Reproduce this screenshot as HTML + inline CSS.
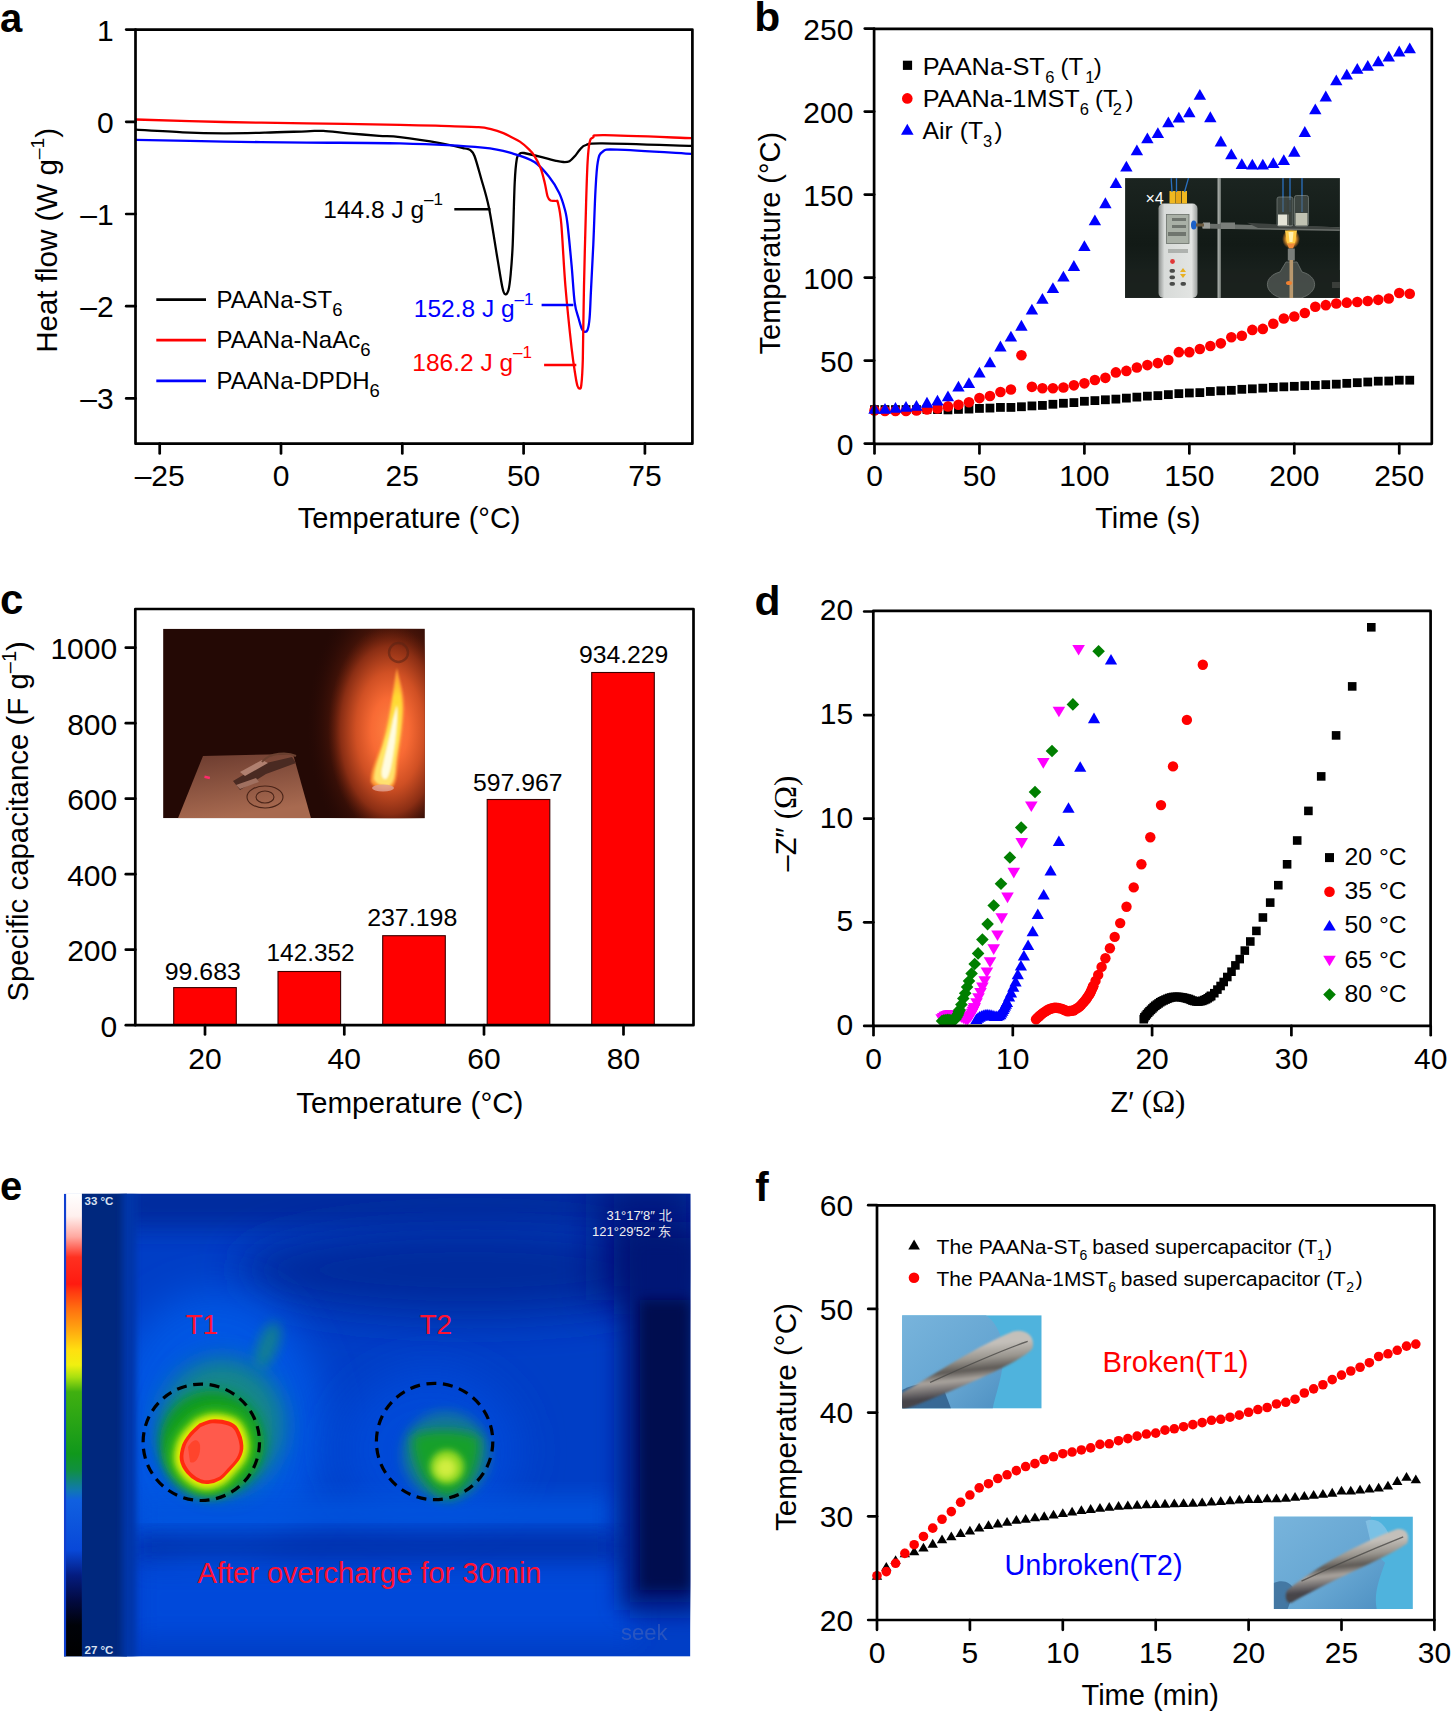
<!DOCTYPE html>
<html><head><meta charset="utf-8"><title>Figure</title>
<style>html,body{margin:0;padding:0;background:#fff;}svg{display:block;}text{font-family:"Liberation Sans",sans-serif;}</style>
</head><body>
<svg width="1451" height="1713" viewBox="0 0 1451 1713" font-family="Liberation Sans, sans-serif">
<rect width="1451" height="1713" fill="#fff"/>
<g id="pa">
<clipPath id="ca"><rect x="135.5" y="29.6" width="556.9" height="414.1"/></clipPath>
<g clip-path="url(#ca)" fill="none" stroke-width="2.3" stroke-linejoin="round">
<path d="M135.60,129.60 C143.45,130.05 167.97,131.68 182.70,132.30 C197.43,132.92 210.22,133.23 224.00,133.30 C237.78,133.37 251.62,133.03 265.40,132.70 C279.18,132.37 297.05,131.60 306.70,131.30 C316.35,131.00 316.40,130.57 323.30,130.90 C330.20,131.23 338.80,132.48 348.10,133.30 C357.40,134.12 370.45,135.15 379.10,135.80 C387.75,136.45 389.63,135.93 400.00,137.20 C410.37,138.47 430.47,141.52 441.30,143.40 C452.13,145.28 460.17,147.37 465.00,148.50 C469.83,149.63 468.72,148.95 470.30,150.20 C471.88,151.45 472.72,151.37 474.50,156.00 C476.28,160.63 478.60,169.42 481.00,178.00 C483.40,186.58 486.20,194.32 488.90,207.50 C491.60,220.68 494.93,243.68 497.20,257.10 C499.47,270.52 501.13,281.80 502.50,288.00 C503.87,294.20 504.40,293.97 505.40,294.30 C506.40,294.63 507.63,293.22 508.50,290.00 C509.37,286.78 509.90,282.55 510.60,275.00 C511.30,267.45 512.02,260.08 512.70,244.70 C513.38,229.32 514.02,196.98 514.70,182.70 C515.38,168.42 516.00,163.75 516.80,159.00 C517.60,154.25 518.30,155.20 519.50,154.20 C520.70,153.20 519.80,152.38 524.00,153.00 C528.20,153.62 539.37,156.60 544.70,157.90 C550.03,159.20 552.90,160.12 556.00,160.80 C559.10,161.48 561.05,161.93 563.30,162.00 C565.55,162.07 567.55,162.20 569.50,161.20 C571.45,160.20 573.27,157.93 575.00,156.00 C576.73,154.07 578.07,151.43 579.90,149.60 C581.73,147.77 582.22,146.03 586.00,145.00 C589.78,143.97 585.02,143.25 602.60,143.40 C620.18,143.55 676.68,145.48 691.50,145.90" stroke="#000"/>
<path d="M135.60,139.80 C150.33,140.10 195.48,141.13 224.00,141.60 C252.52,142.07 277.37,142.30 306.70,142.60 C336.03,142.90 370.67,142.57 400.00,143.40 C429.33,144.23 463.75,145.87 482.70,147.60 C501.65,149.33 505.08,151.40 513.70,153.80 C522.32,156.20 528.53,158.22 534.40,162.00 C540.27,165.78 544.77,171.33 548.90,176.50 C553.03,181.67 556.52,187.42 559.20,193.00 C561.88,198.58 563.62,204.83 565.00,210.00 C566.38,215.17 566.40,214.77 567.50,224.00 C568.60,233.23 570.40,252.30 571.60,265.40 C572.80,278.50 573.55,293.83 574.70,302.60 C575.85,311.37 577.37,313.77 578.50,318.00 C579.63,322.23 580.58,325.73 581.50,328.00 C582.42,330.27 583.00,331.27 584.00,331.60 C585.00,331.93 586.57,332.27 587.50,330.00 C588.43,327.73 589.02,324.67 589.60,318.00 C590.18,311.33 590.38,302.22 591.00,290.00 C591.62,277.78 592.55,261.37 593.30,244.70 C594.05,228.03 594.75,203.78 595.50,190.00 C596.25,176.22 596.62,168.38 597.80,162.00 C598.98,155.62 599.38,153.77 602.60,151.70 C605.82,149.63 602.28,149.25 617.10,149.60 C631.92,149.95 679.10,153.10 691.50,153.80" stroke="#0000ff"/>
<path d="M135.60,119.50 C150.33,119.92 195.48,121.35 224.00,122.00 C252.52,122.65 277.37,122.93 306.70,123.40 C336.03,123.87 377.57,124.40 400.00,124.80 C422.43,125.20 428.20,125.42 441.30,125.80 C454.40,126.18 470.32,126.53 478.60,127.10 C486.88,127.67 486.87,128.20 491.00,129.20 C495.13,130.20 499.97,131.77 503.40,133.10 C506.83,134.43 508.85,135.78 511.60,137.20 C514.35,138.62 517.13,139.70 519.90,141.60 C522.67,143.50 525.78,146.23 528.20,148.60 C530.62,150.97 532.33,152.53 534.40,155.80 C536.47,159.07 538.88,163.72 540.60,168.20 C542.32,172.68 543.53,177.98 544.70,182.70 C545.87,187.42 546.63,193.52 547.60,196.50 C548.57,199.48 549.10,199.85 550.50,200.60 C551.90,201.35 554.75,200.60 556.00,201.00 C557.25,201.40 557.12,199.17 558.00,203.00 C558.88,206.83 560.07,210.17 561.30,224.00 C562.53,237.83 563.68,265.32 565.40,286.00 C567.12,306.68 569.92,333.10 571.60,348.10 C573.28,363.10 574.52,369.68 575.50,376.00 C576.48,382.32 576.83,383.92 577.50,386.00 C578.17,388.08 578.87,388.67 579.50,388.50 C580.13,388.33 580.75,389.75 581.30,385.00 C581.85,380.25 582.35,376.50 582.80,360.00 C583.25,343.50 583.45,312.10 584.00,286.00 C584.55,259.90 585.50,224.07 586.10,203.40 C586.70,182.73 587.03,172.07 587.60,162.00 C588.17,151.93 588.60,147.08 589.50,143.00 C590.40,138.92 590.47,138.82 593.00,137.50 C595.53,136.18 588.28,134.98 604.70,135.10 C621.12,135.22 677.03,137.68 691.50,138.20" stroke="#ff0000"/>
</g>
<rect x="135.50" y="29.60" width="556.90" height="414.10" fill="none" stroke="#000" stroke-width="2.7" stroke-linejoin="round"/>
<line x1="126.20" y1="29.60" x2="135.50" y2="29.60" stroke="#000" stroke-width="2.7" stroke-linecap="round"/>
<text x="113.6" y="40.6" font-size="30" text-anchor="end">1</text>
<line x1="126.20" y1="121.80" x2="135.50" y2="121.80" stroke="#000" stroke-width="2.7" stroke-linecap="round"/>
<text x="113.6" y="132.8" font-size="30" text-anchor="end">0</text>
<line x1="126.20" y1="214.00" x2="135.50" y2="214.00" stroke="#000" stroke-width="2.7" stroke-linecap="round"/>
<text x="113.6" y="225.0" font-size="30" text-anchor="end">–1</text>
<line x1="126.20" y1="306.20" x2="135.50" y2="306.20" stroke="#000" stroke-width="2.7" stroke-linecap="round"/>
<text x="113.6" y="317.2" font-size="30" text-anchor="end">–2</text>
<line x1="126.20" y1="398.40" x2="135.50" y2="398.40" stroke="#000" stroke-width="2.7" stroke-linecap="round"/>
<text x="113.6" y="409.4" font-size="30" text-anchor="end">–3</text>
<line x1="159.70" y1="443.70" x2="159.70" y2="453.50" stroke="#000" stroke-width="2.7" stroke-linecap="round"/>
<text x="159.7" y="485.6" font-size="30" text-anchor="middle">–25</text>
<line x1="281.00" y1="443.70" x2="281.00" y2="453.50" stroke="#000" stroke-width="2.7" stroke-linecap="round"/>
<text x="281.0" y="485.6" font-size="30" text-anchor="middle">0</text>
<line x1="402.30" y1="443.70" x2="402.30" y2="453.50" stroke="#000" stroke-width="2.7" stroke-linecap="round"/>
<text x="402.3" y="485.6" font-size="30" text-anchor="middle">25</text>
<line x1="523.60" y1="443.70" x2="523.60" y2="453.50" stroke="#000" stroke-width="2.7" stroke-linecap="round"/>
<text x="523.6" y="485.6" font-size="30" text-anchor="middle">50</text>
<line x1="644.90" y1="443.70" x2="644.90" y2="453.50" stroke="#000" stroke-width="2.7" stroke-linecap="round"/>
<text x="644.9" y="485.6" font-size="30" text-anchor="middle">75</text>
<text x="297.8" y="528.2" font-size="29">Temperature (°C)</text>
<g transform="translate(56.9,352.8) rotate(-90)">
<text x="0" y="0" font-size="29" textLength="225" lengthAdjust="spacingAndGlyphs">Heat flow (W g<tspan font-size="19" dy="-12.6">–1</tspan><tspan dy="12.6">)</tspan></text>
</g>
<line x1="156.30" y1="299.60" x2="206.00" y2="299.60" stroke="#000" stroke-width="2.7" stroke-linecap="butt"/>
<line x1="156.30" y1="340.20" x2="206.00" y2="340.20" stroke="#ff0000" stroke-width="2.7" stroke-linecap="butt"/>
<line x1="156.30" y1="380.80" x2="206.00" y2="380.80" stroke="#0000ff" stroke-width="2.7" stroke-linecap="butt"/>
<text x="216.6" y="307.6" font-size="24">PAANa-ST<tspan font-size="18.5" dy="8.2">6</tspan></text>
<text x="216.6" y="348.0" font-size="24">PAANa-NaAc<tspan font-size="18.5" dy="8.2">6</tspan></text>
<text x="216.6" y="389.0" font-size="24">PAANa-DPDH<tspan font-size="18.5" dy="8.2">6</tspan></text>
<text x="323.3" y="217.6" font-size="24.5">144.8 J g<tspan font-size="17" dy="-12.5">–1</tspan></text>
<line x1="454.30" y1="209.30" x2="490.40" y2="209.30" stroke="#000" stroke-width="2.5" stroke-linecap="butt"/>
<text x="413.8" y="317.4" font-size="24.5" fill="#0000ff">152.8 J g<tspan font-size="17" dy="-12.5">–1</tspan></text>
<line x1="541.60" y1="305.00" x2="573.40" y2="305.00" stroke="#0000ff" stroke-width="2.5" stroke-linecap="butt"/>
<text x="412.3" y="370.7" font-size="24.5" fill="#ff0000">186.2 J g<tspan font-size="17" dy="-12.5">–1</tspan></text>
<line x1="544.10" y1="364.90" x2="576.30" y2="364.90" stroke="#ff0000" stroke-width="2.5" stroke-linecap="butt"/>
<text x="0.0" y="32.0" font-size="40" font-weight="bold">a</text>
</g>
<g id="pb">
<defs><clipPath id="cb"><rect x="1125.1" y="178.1" width="214.8" height="119.8"/></clipPath><linearGradient id="bgb" x1="0" y1="0" x2="0" y2="1"><stop offset="0" stop-color="#1b2420"/><stop offset="0.55" stop-color="#121a16"/><stop offset="1" stop-color="#1e2623"/></linearGradient><radialGradient id="flb" cx="0.5" cy="0.5" r="0.5"><stop offset="0" stop-color="#fff2c0"/><stop offset="0.5" stop-color="#ffb030"/><stop offset="1" stop-color="#ff8a20" stop-opacity="0"/></radialGradient><linearGradient id="devb" x1="0" y1="0" x2="1" y2="0"><stop offset="0" stop-color="#8a8e8c"/><stop offset="0.15" stop-color="#d8dbd9"/><stop offset="0.85" stop-color="#e2e4e2"/><stop offset="1" stop-color="#9a9e9c"/></linearGradient></defs>
<g clip-path="url(#cb)">
<rect x="1125.1" y="178.1" width="214.8" height="119.8" fill="url(#bgb)"/>
<rect x="1125.1" y="270" width="214.8" height="28" fill="#1a201d" opacity="0.8"/>
<rect x="1217.3" y="178.1" width="3.6" height="119.8" fill="#7e8480"/>
<rect x="1218.2" y="178.1" width="1.2" height="119.8" fill="#a8ada9"/>
<polygon points="1202,223.5 1339.9,227.2 1339.9,231 1202,228.5" fill="#6a6f6b"/>
<polygon points="1247,222.8 1339.9,227.4 1339.9,229.5 1258,228" fill="#3e4340" />
<rect x="1203" y="222.5" width="7" height="6" fill="#9a9e9a"/>
<rect x="1221" y="222.5" width="14" height="6.5" fill="#7a7e7a"/>
<rect x="1158.5" y="203.5" width="39" height="94.4" rx="5" fill="url(#devb)"/>
<rect x="1166.5" y="214.5" width="22.5" height="29" fill="#a9b0a6" stroke="#6a706a" stroke-width="0.8"/>
<rect x="1172" y="218" width="14" height="3" fill="#4a4e4a" opacity="0.6"/>
<rect x="1172" y="225" width="14" height="3" fill="#4a4e4a" opacity="0.6"/>
<rect x="1168" y="232" width="18" height="4" fill="#4a4e4a" opacity="0.6"/>
<rect x="1168" y="249" width="20" height="4" fill="#9a9e9a" opacity="0.7"/>
<circle cx="1172.5" cy="261.5" r="2.4" fill="#e03838"/>
<rect x="1169.5" y="269" width="5.5" height="3.8" rx="1.8" fill="#4a4c4a"/>
<rect x="1169.5" y="275.5" width="5.5" height="3.8" rx="1.8" fill="#4a4c4a"/>
<rect x="1169.5" y="282" width="5.5" height="3.8" rx="1.8" fill="#4a4c4a"/>
<polygon points="1183,268 1186,272 1180,272" fill="#e8b020"/>
<polygon points="1183,278 1186,274 1180,274" fill="#e8b020"/>
<rect x="1180.5" y="282" width="5.5" height="3.8" rx="1.8" fill="#4a4c4a"/>
<ellipse cx="1193.8" cy="225" rx="2.8" ry="4.6" fill="#1a60c8"/>
<rect x="1196" y="223.5" width="8" height="3" fill="#6a5a40"/>
<rect x="1169.5" y="191" width="6" height="12.5" fill="#f0b820"/>
<rect x="1175.8" y="191" width="5.5" height="12.5" fill="#e8a818"/>
<rect x="1182" y="191" width="5" height="12.5" fill="#f0b820"/>
<path d="M1172,192 L1171.2,178.1" stroke="#2a70c0" stroke-width="1.3" fill="none"/>
<path d="M1176.5,192 L1176.5,178.1" stroke="#2a70c0" stroke-width="1.3" fill="none"/>
<path d="M1184.5,192 L1188.5,178.1" stroke="#2a70c0" stroke-width="1.3" fill="none"/>
<path d="M1283,178.1 L1283,212" stroke="#2a70c0" stroke-width="1.3" fill="none"/>
<path d="M1290,178.1 L1290,212" stroke="#2a70c0" stroke-width="1.3" fill="none"/>
<path d="M1302,178.1 L1302,212" stroke="#2a70c0" stroke-width="1.3" fill="none"/>
<rect x="1277" y="197" width="16" height="29" rx="2" fill="#5a625e" opacity="0.55" stroke="#b8c0bc" stroke-width="0.8"/>
<rect x="1294.5" y="195.5" width="14" height="30.5" rx="2" fill="#5a625e" opacity="0.55" stroke="#b8c0bc" stroke-width="0.8"/>
<rect x="1278" y="214.5" width="11" height="11" fill="#e4e4d8"/>
<rect x="1295.5" y="213" width="12" height="12.5" fill="#c0c2b2"/>
<rect x="1287" y="200" width="4" height="25" fill="#3a403c" opacity="0.7"/>
<ellipse cx="1291" cy="239" rx="9" ry="10" fill="url(#flb)"/>
<polygon points="1285,230.5 1297,230.5 1294.8,243.5 1287.2,243.5" fill="#ffcc48"/>
<polygon points="1288.5,232 1293.5,232 1292.5,242 1289.5,242" fill="#fff0b0"/>
<polygon points="1287,243.5 1295,243.5 1293,248.5 1289,248.5" fill="#f08a38"/>
<rect x="1287.8" y="248.5" width="7" height="12" fill="#7a7e7a"/>
<path d="M1281,298 C1262,292 1264,276 1280,272 L1286,262 L1297,262 L1302,272 C1318,276 1320,292 1301,298 Z" fill="#7a807c" opacity="0.45" stroke="#c8cecb" stroke-width="0.9"/>
<rect x="1289.5" y="260" width="3.6" height="38" fill="#b8986e"/>
<ellipse cx="1289" cy="283" rx="3" ry="2" fill="#f08030"/>
<rect x="1332" y="282" width="8" height="6" fill="#3a3e3a"/>
</g>
<text x="1145.5" y="203.5" font-size="16" fill="#fff">×4</text>
<rect x="870.10" y="405.17" width="8.80" height="8.80" fill="#000"/>
<rect x="880.60" y="405.17" width="8.80" height="8.80" fill="#000"/>
<rect x="891.09" y="405.17" width="8.80" height="8.80" fill="#000"/>
<rect x="901.59" y="405.17" width="8.80" height="8.80" fill="#000"/>
<rect x="912.08" y="405.17" width="8.80" height="8.80" fill="#000"/>
<rect x="922.58" y="405.17" width="8.80" height="8.80" fill="#000"/>
<rect x="933.07" y="405.17" width="8.80" height="8.80" fill="#000"/>
<rect x="943.57" y="405.50" width="8.80" height="8.80" fill="#000"/>
<rect x="954.06" y="405.00" width="8.80" height="8.80" fill="#000"/>
<rect x="964.56" y="404.67" width="8.80" height="8.80" fill="#000"/>
<rect x="975.05" y="404.01" width="8.80" height="8.80" fill="#000"/>
<rect x="985.55" y="403.68" width="8.80" height="8.80" fill="#000"/>
<rect x="996.04" y="403.01" width="8.80" height="8.80" fill="#000"/>
<rect x="1006.53" y="403.01" width="8.80" height="8.80" fill="#000"/>
<rect x="1017.03" y="402.35" width="8.80" height="8.80" fill="#000"/>
<rect x="1027.52" y="401.52" width="8.80" height="8.80" fill="#000"/>
<rect x="1038.02" y="401.02" width="8.80" height="8.80" fill="#000"/>
<rect x="1048.51" y="399.86" width="8.80" height="8.80" fill="#000"/>
<rect x="1059.01" y="398.86" width="8.80" height="8.80" fill="#000"/>
<rect x="1069.50" y="398.20" width="8.80" height="8.80" fill="#000"/>
<rect x="1080.00" y="396.87" width="8.80" height="8.80" fill="#000"/>
<rect x="1090.49" y="396.21" width="8.80" height="8.80" fill="#000"/>
<rect x="1100.99" y="395.38" width="8.80" height="8.80" fill="#000"/>
<rect x="1111.48" y="394.71" width="8.80" height="8.80" fill="#000"/>
<rect x="1121.98" y="393.72" width="8.80" height="8.80" fill="#000"/>
<rect x="1132.47" y="392.72" width="8.80" height="8.80" fill="#000"/>
<rect x="1142.97" y="391.72" width="8.80" height="8.80" fill="#000"/>
<rect x="1153.46" y="391.23" width="8.80" height="8.80" fill="#000"/>
<rect x="1163.96" y="390.23" width="8.80" height="8.80" fill="#000"/>
<rect x="1174.45" y="389.23" width="8.80" height="8.80" fill="#000"/>
<rect x="1184.95" y="388.57" width="8.80" height="8.80" fill="#000"/>
<rect x="1195.44" y="388.24" width="8.80" height="8.80" fill="#000"/>
<rect x="1205.94" y="387.08" width="8.80" height="8.80" fill="#000"/>
<rect x="1216.43" y="386.41" width="8.80" height="8.80" fill="#000"/>
<rect x="1226.93" y="385.91" width="8.80" height="8.80" fill="#000"/>
<rect x="1237.42" y="384.92" width="8.80" height="8.80" fill="#000"/>
<rect x="1247.92" y="384.42" width="8.80" height="8.80" fill="#000"/>
<rect x="1258.41" y="383.76" width="8.80" height="8.80" fill="#000"/>
<rect x="1268.91" y="382.93" width="8.80" height="8.80" fill="#000"/>
<rect x="1279.40" y="382.43" width="8.80" height="8.80" fill="#000"/>
<rect x="1289.90" y="381.93" width="8.80" height="8.80" fill="#000"/>
<rect x="1300.39" y="381.27" width="8.80" height="8.80" fill="#000"/>
<rect x="1310.89" y="380.93" width="8.80" height="8.80" fill="#000"/>
<rect x="1321.38" y="380.27" width="8.80" height="8.80" fill="#000"/>
<rect x="1331.88" y="379.77" width="8.80" height="8.80" fill="#000"/>
<rect x="1342.38" y="378.94" width="8.80" height="8.80" fill="#000"/>
<rect x="1352.87" y="378.28" width="8.80" height="8.80" fill="#000"/>
<rect x="1363.37" y="377.61" width="8.80" height="8.80" fill="#000"/>
<rect x="1373.86" y="376.78" width="8.80" height="8.80" fill="#000"/>
<rect x="1384.36" y="376.62" width="8.80" height="8.80" fill="#000"/>
<rect x="1394.85" y="375.79" width="8.80" height="8.80" fill="#000"/>
<rect x="1405.34" y="375.79" width="8.80" height="8.80" fill="#000"/>
<circle cx="874.50" cy="410.40" r="5.30" fill="#ff0000"/>
<circle cx="885.00" cy="410.90" r="5.30" fill="#ff0000"/>
<circle cx="895.49" cy="410.90" r="5.30" fill="#ff0000"/>
<circle cx="905.99" cy="410.90" r="5.30" fill="#ff0000"/>
<circle cx="916.48" cy="410.57" r="5.30" fill="#ff0000"/>
<circle cx="926.98" cy="409.40" r="5.30" fill="#ff0000"/>
<circle cx="937.47" cy="408.41" r="5.30" fill="#ff0000"/>
<circle cx="947.97" cy="406.42" r="5.30" fill="#ff0000"/>
<circle cx="958.46" cy="404.76" r="5.30" fill="#ff0000"/>
<circle cx="968.96" cy="402.27" r="5.30" fill="#ff0000"/>
<circle cx="979.45" cy="398.12" r="5.30" fill="#ff0000"/>
<circle cx="989.95" cy="395.96" r="5.30" fill="#ff0000"/>
<circle cx="1000.44" cy="391.97" r="5.30" fill="#ff0000"/>
<circle cx="1010.93" cy="389.48" r="5.30" fill="#ff0000"/>
<circle cx="1021.43" cy="355.29" r="5.30" fill="#ff0000"/>
<circle cx="1031.92" cy="386.83" r="5.30" fill="#ff0000"/>
<circle cx="1042.42" cy="388.32" r="5.30" fill="#ff0000"/>
<circle cx="1052.91" cy="388.32" r="5.30" fill="#ff0000"/>
<circle cx="1063.41" cy="387.49" r="5.30" fill="#ff0000"/>
<circle cx="1073.90" cy="385.33" r="5.30" fill="#ff0000"/>
<circle cx="1084.40" cy="383.34" r="5.30" fill="#ff0000"/>
<circle cx="1094.89" cy="380.02" r="5.30" fill="#ff0000"/>
<circle cx="1105.39" cy="377.86" r="5.30" fill="#ff0000"/>
<circle cx="1115.88" cy="372.39" r="5.30" fill="#ff0000"/>
<circle cx="1126.38" cy="370.89" r="5.30" fill="#ff0000"/>
<circle cx="1136.88" cy="367.57" r="5.30" fill="#ff0000"/>
<circle cx="1147.37" cy="365.08" r="5.30" fill="#ff0000"/>
<circle cx="1157.87" cy="363.09" r="5.30" fill="#ff0000"/>
<circle cx="1168.36" cy="359.94" r="5.30" fill="#ff0000"/>
<circle cx="1178.86" cy="352.13" r="5.30" fill="#ff0000"/>
<circle cx="1189.35" cy="352.13" r="5.30" fill="#ff0000"/>
<circle cx="1199.85" cy="348.98" r="5.30" fill="#ff0000"/>
<circle cx="1210.34" cy="345.99" r="5.30" fill="#ff0000"/>
<circle cx="1220.84" cy="343.34" r="5.30" fill="#ff0000"/>
<circle cx="1231.33" cy="337.19" r="5.30" fill="#ff0000"/>
<circle cx="1241.83" cy="335.70" r="5.30" fill="#ff0000"/>
<circle cx="1252.32" cy="329.89" r="5.30" fill="#ff0000"/>
<circle cx="1262.82" cy="328.89" r="5.30" fill="#ff0000"/>
<circle cx="1273.31" cy="323.75" r="5.30" fill="#ff0000"/>
<circle cx="1283.81" cy="318.44" r="5.30" fill="#ff0000"/>
<circle cx="1294.30" cy="316.44" r="5.30" fill="#ff0000"/>
<circle cx="1304.80" cy="312.96" r="5.30" fill="#ff0000"/>
<circle cx="1315.29" cy="306.82" r="5.30" fill="#ff0000"/>
<circle cx="1325.79" cy="305.16" r="5.30" fill="#ff0000"/>
<circle cx="1336.28" cy="303.50" r="5.30" fill="#ff0000"/>
<circle cx="1346.78" cy="302.67" r="5.30" fill="#ff0000"/>
<circle cx="1357.27" cy="302.00" r="5.30" fill="#ff0000"/>
<circle cx="1367.77" cy="301.01" r="5.30" fill="#ff0000"/>
<circle cx="1378.26" cy="299.84" r="5.30" fill="#ff0000"/>
<circle cx="1388.76" cy="298.52" r="5.30" fill="#ff0000"/>
<circle cx="1399.25" cy="293.04" r="5.30" fill="#ff0000"/>
<circle cx="1409.74" cy="293.70" r="5.30" fill="#ff0000"/>
<polygon points="874.50,403.01 880.70,413.81 868.30,413.81" fill="#0000ff"/>
<polygon points="885.00,403.01 891.20,413.81 878.79,413.81" fill="#0000ff"/>
<polygon points="895.49,402.01 901.69,412.81 889.29,412.81" fill="#0000ff"/>
<polygon points="905.99,401.02 912.19,411.82 899.78,411.82" fill="#0000ff"/>
<polygon points="916.48,400.02 922.68,410.82 910.28,410.82" fill="#0000ff"/>
<polygon points="926.98,396.87 933.18,407.67 920.77,407.67" fill="#0000ff"/>
<polygon points="937.47,394.71 943.67,405.51 931.27,405.51" fill="#0000ff"/>
<polygon points="947.97,390.56 954.17,401.36 941.76,401.36" fill="#0000ff"/>
<polygon points="958.46,380.76 964.66,391.56 952.26,391.56" fill="#0000ff"/>
<polygon points="968.96,377.28 975.16,388.08 962.75,388.08" fill="#0000ff"/>
<polygon points="979.45,366.82 985.65,377.62 973.25,377.62" fill="#0000ff"/>
<polygon points="989.95,356.53 996.15,367.33 983.75,367.33" fill="#0000ff"/>
<polygon points="1000.44,340.59 1006.64,351.39 994.24,351.39" fill="#0000ff"/>
<polygon points="1010.93,330.63 1017.13,341.43 1004.73,341.43" fill="#0000ff"/>
<polygon points="1021.43,319.84 1027.63,330.64 1015.23,330.64" fill="#0000ff"/>
<polygon points="1031.92,303.74 1038.12,314.54 1025.72,314.54" fill="#0000ff"/>
<polygon points="1042.42,292.95 1048.62,303.75 1036.22,303.75" fill="#0000ff"/>
<polygon points="1052.91,282.16 1059.12,292.96 1046.71,292.96" fill="#0000ff"/>
<polygon points="1063.41,270.71 1069.61,281.51 1057.21,281.51" fill="#0000ff"/>
<polygon points="1073.90,260.08 1080.11,270.88 1067.70,270.88" fill="#0000ff"/>
<polygon points="1084.40,240.16 1090.60,250.96 1078.20,250.96" fill="#0000ff"/>
<polygon points="1094.89,214.43 1101.10,225.23 1088.69,225.23" fill="#0000ff"/>
<polygon points="1105.39,197.33 1111.59,208.13 1099.19,208.13" fill="#0000ff"/>
<polygon points="1115.88,177.25 1122.09,188.05 1109.68,188.05" fill="#0000ff"/>
<polygon points="1126.38,160.65 1132.58,171.45 1120.18,171.45" fill="#0000ff"/>
<polygon points="1136.88,144.55 1143.08,155.35 1130.67,155.35" fill="#0000ff"/>
<polygon points="1147.37,132.43 1153.57,143.23 1141.17,143.23" fill="#0000ff"/>
<polygon points="1157.87,127.28 1164.07,138.08 1151.66,138.08" fill="#0000ff"/>
<polygon points="1168.36,116.49 1174.56,127.29 1162.16,127.29" fill="#0000ff"/>
<polygon points="1178.86,111.68 1185.06,122.48 1172.65,122.48" fill="#0000ff"/>
<polygon points="1189.35,106.53 1195.55,117.33 1183.15,117.33" fill="#0000ff"/>
<polygon points="1199.85,88.94 1206.05,99.74 1193.64,99.74" fill="#0000ff"/>
<polygon points="1210.34,111.35 1216.54,122.15 1204.14,122.15" fill="#0000ff"/>
<polygon points="1220.84,135.58 1227.04,146.38 1214.63,146.38" fill="#0000ff"/>
<polygon points="1231.33,148.53 1237.53,159.33 1225.13,159.33" fill="#0000ff"/>
<polygon points="1241.83,158.16 1248.03,168.96 1235.62,168.96" fill="#0000ff"/>
<polygon points="1252.32,158.82 1258.52,169.62 1246.12,169.62" fill="#0000ff"/>
<polygon points="1262.82,158.82 1269.02,169.62 1256.62,169.62" fill="#0000ff"/>
<polygon points="1273.31,157.16 1279.51,167.96 1267.11,167.96" fill="#0000ff"/>
<polygon points="1283.81,154.17 1290.01,164.97 1277.61,164.97" fill="#0000ff"/>
<polygon points="1294.30,145.87 1300.50,156.67 1288.10,156.67" fill="#0000ff"/>
<polygon points="1304.80,126.12 1311.00,136.92 1298.60,136.92" fill="#0000ff"/>
<polygon points="1315.29,103.54 1321.49,114.34 1309.09,114.34" fill="#0000ff"/>
<polygon points="1325.79,90.60 1331.99,101.40 1319.59,101.40" fill="#0000ff"/>
<polygon points="1336.28,74.49 1342.48,85.29 1330.08,85.29" fill="#0000ff"/>
<polygon points="1346.78,68.68 1352.98,79.48 1340.58,79.48" fill="#0000ff"/>
<polygon points="1357.27,63.04 1363.47,73.84 1351.07,73.84" fill="#0000ff"/>
<polygon points="1367.77,60.05 1373.97,70.85 1361.57,70.85" fill="#0000ff"/>
<polygon points="1378.26,55.57 1384.46,66.37 1372.06,66.37" fill="#0000ff"/>
<polygon points="1388.76,50.76 1394.96,61.56 1382.56,61.56" fill="#0000ff"/>
<polygon points="1399.25,45.61 1405.45,56.41 1393.05,56.41" fill="#0000ff"/>
<polygon points="1409.74,42.46 1415.94,53.26 1403.54,53.26" fill="#0000ff"/>
<rect x="874.10" y="28.80" width="557.70" height="415.00" fill="none" stroke="#000" stroke-width="2.7" stroke-linejoin="round"/>
<line x1="864.80" y1="443.60" x2="874.10" y2="443.60" stroke="#000" stroke-width="2.7" stroke-linecap="round"/>
<text x="853.4" y="454.6" font-size="30" text-anchor="end">0</text>
<line x1="864.80" y1="360.60" x2="874.10" y2="360.60" stroke="#000" stroke-width="2.7" stroke-linecap="round"/>
<text x="853.4" y="371.6" font-size="30" text-anchor="end">50</text>
<line x1="864.80" y1="277.60" x2="874.10" y2="277.60" stroke="#000" stroke-width="2.7" stroke-linecap="round"/>
<text x="853.4" y="288.6" font-size="30" text-anchor="end">100</text>
<line x1="864.80" y1="194.60" x2="874.10" y2="194.60" stroke="#000" stroke-width="2.7" stroke-linecap="round"/>
<text x="853.4" y="205.6" font-size="30" text-anchor="end">150</text>
<line x1="864.80" y1="111.60" x2="874.10" y2="111.60" stroke="#000" stroke-width="2.7" stroke-linecap="round"/>
<text x="853.4" y="122.6" font-size="30" text-anchor="end">200</text>
<line x1="864.80" y1="28.60" x2="874.10" y2="28.60" stroke="#000" stroke-width="2.7" stroke-linecap="round"/>
<text x="853.4" y="39.6" font-size="30" text-anchor="end">250</text>
<line x1="874.50" y1="443.80" x2="874.50" y2="453.50" stroke="#000" stroke-width="2.7" stroke-linecap="round"/>
<text x="874.5" y="485.6" font-size="30" text-anchor="middle">0</text>
<line x1="979.45" y1="443.80" x2="979.45" y2="453.50" stroke="#000" stroke-width="2.7" stroke-linecap="round"/>
<text x="979.5" y="485.6" font-size="30" text-anchor="middle">50</text>
<line x1="1084.40" y1="443.80" x2="1084.40" y2="453.50" stroke="#000" stroke-width="2.7" stroke-linecap="round"/>
<text x="1084.4" y="485.6" font-size="30" text-anchor="middle">100</text>
<line x1="1189.35" y1="443.80" x2="1189.35" y2="453.50" stroke="#000" stroke-width="2.7" stroke-linecap="round"/>
<text x="1189.3" y="485.6" font-size="30" text-anchor="middle">150</text>
<line x1="1294.30" y1="443.80" x2="1294.30" y2="453.50" stroke="#000" stroke-width="2.7" stroke-linecap="round"/>
<text x="1294.3" y="485.6" font-size="30" text-anchor="middle">200</text>
<line x1="1399.25" y1="443.80" x2="1399.25" y2="453.50" stroke="#000" stroke-width="2.7" stroke-linecap="round"/>
<text x="1399.2" y="485.6" font-size="30" text-anchor="middle">250</text>
<text x="1095.2" y="527.5" font-size="29">Time (s)</text>
<g transform="translate(780.0,354.5) rotate(-90)">
<text x="0" y="0" font-size="29">Temperature (°C)</text>
</g>
<rect x="902.90" y="60.70" width="9.20" height="9.20" fill="#000"/>
<circle cx="907.30" cy="98.40" r="5.30" fill="#ff0000"/>
<polygon points="907.30,123.80 913.60,134.80 901.00,134.80" fill="#0000ff"/>
<text x="922.8" y="75.0" font-size="24" textLength="122" lengthAdjust="spacingAndGlyphs">PAANa-ST</text>
<text x="1045.2" y="82.7" font-size="16.5">6</text>
<text x="1060.5" y="75.0" font-size="24">(T</text>
<text x="1085.2" y="82.7" font-size="16.5">1</text>
<text x="1093.8" y="75.0" font-size="24">)</text>
<text x="922.8" y="106.9" font-size="24" textLength="157" lengthAdjust="spacingAndGlyphs">PAANa-1MST</text>
<text x="1079.7" y="114.6" font-size="16.5">6</text>
<text x="1095.0" y="106.9" font-size="24">(T</text>
<text x="1112.7" y="114.6" font-size="16.5">2</text>
<text x="1125.5" y="106.9" font-size="24">)</text>
<text x="922.5" y="138.7" font-size="24" textLength="60.5" lengthAdjust="spacingAndGlyphs">Air (T</text>
<text x="982.9" y="146.5" font-size="16.5">3</text>
<text x="994.5" y="138.7" font-size="24">)</text>
<text x="754.3" y="31.2" font-size="40.5" font-weight="bold" textLength="26" lengthAdjust="spacingAndGlyphs">b</text>
</g>
<g id="pc">
<defs><clipPath id="cc"><rect x="163.1" y="628.7" width="261.7" height="189.5"/></clipPath><radialGradient id="glowc" cx="0.5" cy="0.5" r="0.5"><stop offset="0" stop-color="#ff8040"/><stop offset="0.3" stop-color="#f86a34"/><stop offset="0.55" stop-color="#d05024"/><stop offset="0.8" stop-color="#8a2e14"/><stop offset="1" stop-color="#5a1a0a" stop-opacity="0"/></radialGradient><radialGradient id="glowc2" cx="0.5" cy="0.5" r="0.5"><stop offset="0" stop-color="#a03818"/><stop offset="0.55" stop-color="#6a200c"/><stop offset="1" stop-color="#2a0a06" stop-opacity="0"/></radialGradient><linearGradient id="flc" x1="0" y1="0" x2="0" y2="1"><stop offset="0" stop-color="#ffa030"/><stop offset="0.2" stop-color="#ffd830"/><stop offset="0.6" stop-color="#ffe860"/><stop offset="1" stop-color="#ffe070"/></linearGradient><linearGradient id="ppc" x1="0" y1="0" x2="0.3" y2="1"><stop offset="0" stop-color="#6a3a2e"/><stop offset="1" stop-color="#a86a50"/></linearGradient><filter id="fb2" x="-50%" y="-50%" width="200%" height="200%"><feGaussianBlur stdDeviation="1.2"/></filter></defs>
<g clip-path="url(#cc)">
<rect x="163.1" y="628.7" width="261.7" height="189.5" fill="#240905"/>
<ellipse cx="392" cy="725" rx="85" ry="140" fill="url(#glowc2)"/>
<ellipse cx="390" cy="730" rx="62" ry="105" fill="url(#glowc)"/>
<polygon points="203,756 293,754 311,818.2 178,818.2" fill="url(#ppc)"/>
<ellipse cx="265" cy="797" rx="18" ry="11" fill="none" stroke="#4a2418" stroke-width="1.1"/>
<ellipse cx="265" cy="797" rx="9" ry="6" fill="none" stroke="#4a2418" stroke-width="1.1"/>
<path d="M233,781 L262,764 L292,757 L296,763 L266,774 L240,790 Z" fill="#4a2a22"/>
<path d="M240,772 L262,760 L268,763 L245,776 Z" fill="#b08070"/>
<path d="M236,785 L256,778 L259,782 L240,789 Z" fill="#a07060"/>
<path d="M262,762 C270,752 288,752 296,756" stroke="#6a4030" stroke-width="2" fill="none"/>
<rect x="204.5" y="776" width="5.5" height="2.6" fill="#ff2a6a" transform="rotate(12 207 777)"/>
<circle cx="398.5" cy="652.5" r="9.5" fill="none" stroke="#5a2214" stroke-width="2.4" opacity="0.55"/>
<g filter="url(#fb2)">
<path d="M397,668 C399,680 405,692 404,712 C403,735 398,755 397,772 C396,782 394,788 389,789 C382,790 374,788 371,782 C370,772 376,760 381,745 C386,728 389,712 392,695 C394,684 395,675 397,668 Z" fill="#ff9a38"/>
<path d="M397,674 C399,686 403,698 402,714 C401,735 396,755 395,771 C394,780 392,785 388,786 C382,786 376,784 374,779 C374,770 379,758 383,745 C388,728 391,712 393,697 C395,687 396,680 397,674 Z" fill="url(#flc)"/>
<path d="M397,705 C398,718 396,737 393,755 C391,768 389,777 386,779 C382,779 381,775 382,769 C385,755 390,737 393,720 Z" fill="#fffce0"/>
</g>
<ellipse cx="383" cy="788" rx="11" ry="3.5" fill="#e0a090" opacity="0.85"/>
</g>
<rect x="173.7" y="987.6" width="62.6" height="37.6" fill="#ff0000" stroke="#3a0000" stroke-width="1.1"/>
<text x="202.8" y="979.6" font-size="24.5" text-anchor="middle" textLength="76.0" lengthAdjust="spacingAndGlyphs">99.683</text>
<rect x="278.0" y="971.5" width="62.6" height="53.7" fill="#ff0000" stroke="#3a0000" stroke-width="1.1"/>
<text x="310.6" y="961.0" font-size="24.5" text-anchor="middle" textLength="88.1" lengthAdjust="spacingAndGlyphs">142.352</text>
<rect x="382.7" y="935.7" width="62.6" height="89.5" fill="#ff0000" stroke="#3a0000" stroke-width="1.1"/>
<text x="412.2" y="926.4" font-size="24.5" text-anchor="middle" textLength="90.1" lengthAdjust="spacingAndGlyphs">237.198</text>
<rect x="487.2" y="799.5" width="62.6" height="225.7" fill="#ff0000" stroke="#3a0000" stroke-width="1.1"/>
<text x="517.7" y="790.5" font-size="24.5" text-anchor="middle" textLength="89.4" lengthAdjust="spacingAndGlyphs">597.967</text>
<rect x="591.7" y="672.5" width="62.6" height="352.7" fill="#ff0000" stroke="#3a0000" stroke-width="1.1"/>
<text x="623.6" y="663.3" font-size="24.5" text-anchor="middle" textLength="89.4" lengthAdjust="spacingAndGlyphs">934.229</text>
<rect x="135.30" y="609.00" width="558.20" height="416.20" fill="none" stroke="#000" stroke-width="2.7" stroke-linejoin="round"/>
<line x1="125.80" y1="1025.20" x2="135.30" y2="1025.20" stroke="#000" stroke-width="2.7" stroke-linecap="round"/>
<text x="117.2" y="1036.5" font-size="30" text-anchor="end">0</text>
<line x1="125.80" y1="949.70" x2="135.30" y2="949.70" stroke="#000" stroke-width="2.7" stroke-linecap="round"/>
<text x="117.2" y="961.0" font-size="30" text-anchor="end">200</text>
<line x1="125.80" y1="874.20" x2="135.30" y2="874.20" stroke="#000" stroke-width="2.7" stroke-linecap="round"/>
<text x="117.2" y="885.5" font-size="30" text-anchor="end">400</text>
<line x1="125.80" y1="798.70" x2="135.30" y2="798.70" stroke="#000" stroke-width="2.7" stroke-linecap="round"/>
<text x="117.2" y="810.0" font-size="30" text-anchor="end">600</text>
<line x1="125.80" y1="723.20" x2="135.30" y2="723.20" stroke="#000" stroke-width="2.7" stroke-linecap="round"/>
<text x="117.2" y="734.5" font-size="30" text-anchor="end">800</text>
<line x1="125.80" y1="647.70" x2="135.30" y2="647.70" stroke="#000" stroke-width="2.7" stroke-linecap="round"/>
<text x="117.2" y="659.0" font-size="30" text-anchor="end">1000</text>
<line x1="205.00" y1="1025.20" x2="205.00" y2="1034.50" stroke="#000" stroke-width="2.7" stroke-linecap="round"/>
<text x="205.0" y="1069.3" font-size="30" text-anchor="middle">20</text>
<line x1="344.30" y1="1025.20" x2="344.30" y2="1034.50" stroke="#000" stroke-width="2.7" stroke-linecap="round"/>
<text x="344.3" y="1069.3" font-size="30" text-anchor="middle">40</text>
<line x1="484.00" y1="1025.20" x2="484.00" y2="1034.50" stroke="#000" stroke-width="2.7" stroke-linecap="round"/>
<text x="484.0" y="1069.3" font-size="30" text-anchor="middle">60</text>
<line x1="623.50" y1="1025.20" x2="623.50" y2="1034.50" stroke="#000" stroke-width="2.7" stroke-linecap="round"/>
<text x="623.5" y="1069.3" font-size="30" text-anchor="middle">80</text>
<text x="296.2" y="1113.1" font-size="29.6">Temperature (°C)</text>
<g transform="translate(28.4,1001.6) rotate(-90)">
<text x="0" y="0" font-size="29.4">Specific capacitance (F g<tspan font-size="20" dy="-12.8">–1</tspan><tspan dy="12.8">)</tspan></text>
</g>
<text x="0.0" y="614.0" font-size="42" font-weight="bold">c</text>
</g>
<g id="pd">
<rect x="1367.00" y="623.00" width="8.60" height="8.60" fill="#000"/>
<rect x="1347.90" y="682.10" width="8.60" height="8.60" fill="#000"/>
<rect x="1331.80" y="731.10" width="8.60" height="8.60" fill="#000"/>
<rect x="1316.90" y="772.10" width="8.60" height="8.60" fill="#000"/>
<rect x="1304.10" y="806.60" width="8.60" height="8.60" fill="#000"/>
<rect x="1292.90" y="836.20" width="8.60" height="8.60" fill="#000"/>
<rect x="1282.80" y="860.00" width="8.60" height="8.60" fill="#000"/>
<rect x="1274.00" y="880.90" width="8.60" height="8.60" fill="#000"/>
<rect x="1265.90" y="898.30" width="8.60" height="8.60" fill="#000"/>
<rect x="1258.60" y="913.20" width="8.60" height="8.60" fill="#000"/>
<rect x="1252.10" y="926.60" width="8.60" height="8.60" fill="#000"/>
<rect x="1246.00" y="937.20" width="8.60" height="8.60" fill="#000"/>
<rect x="1240.50" y="946.30" width="8.60" height="8.60" fill="#000"/>
<rect x="1235.40" y="954.80" width="8.60" height="8.60" fill="#000"/>
<rect x="1231.10" y="961.10" width="8.60" height="8.60" fill="#000"/>
<rect x="1227.20" y="967.40" width="8.60" height="8.60" fill="#000"/>
<rect x="1223.00" y="972.70" width="8.60" height="8.60" fill="#000"/>
<rect x="1219.40" y="977.70" width="8.60" height="8.60" fill="#000"/>
<rect x="1216.30" y="981.70" width="8.60" height="8.60" fill="#000"/>
<rect x="1213.10" y="985.30" width="8.60" height="8.60" fill="#000"/>
<rect x="1210.00" y="988.90" width="8.60" height="8.60" fill="#000"/>
<rect x="1206.70" y="991.70" width="8.60" height="8.60" fill="#000"/>
<rect x="1206.70" y="991.70" width="8.60" height="8.60" fill="#000"/>
<rect x="1205.06" y="992.84" width="8.60" height="8.60" fill="#000"/>
<rect x="1203.42" y="993.99" width="8.60" height="8.60" fill="#000"/>
<rect x="1201.70" y="995.00" width="8.60" height="8.60" fill="#000"/>
<rect x="1199.86" y="995.78" width="8.60" height="8.60" fill="#000"/>
<rect x="1198.02" y="996.56" width="8.60" height="8.60" fill="#000"/>
<rect x="1196.07" y="996.96" width="8.60" height="8.60" fill="#000"/>
<rect x="1194.10" y="997.29" width="8.60" height="8.60" fill="#000"/>
<rect x="1192.13" y="997.16" width="8.60" height="8.60" fill="#000"/>
<rect x="1190.17" y="996.78" width="8.60" height="8.60" fill="#000"/>
<rect x="1188.23" y="996.30" width="8.60" height="8.60" fill="#000"/>
<rect x="1186.40" y="995.51" width="8.60" height="8.60" fill="#000"/>
<rect x="1184.56" y="994.72" width="8.60" height="8.60" fill="#000"/>
<rect x="1182.62" y="994.21" width="8.60" height="8.60" fill="#000"/>
<rect x="1180.69" y="993.71" width="8.60" height="8.60" fill="#000"/>
<rect x="1178.75" y="993.21" width="8.60" height="8.60" fill="#000"/>
<rect x="1176.77" y="992.93" width="8.60" height="8.60" fill="#000"/>
<rect x="1174.79" y="992.65" width="8.60" height="8.60" fill="#000"/>
<rect x="1172.80" y="992.54" width="8.60" height="8.60" fill="#000"/>
<rect x="1170.80" y="992.62" width="8.60" height="8.60" fill="#000"/>
<rect x="1168.81" y="992.70" width="8.60" height="8.60" fill="#000"/>
<rect x="1166.87" y="993.20" width="8.60" height="8.60" fill="#000"/>
<rect x="1164.95" y="993.73" width="8.60" height="8.60" fill="#000"/>
<rect x="1163.09" y="994.48" width="8.60" height="8.60" fill="#000"/>
<rect x="1161.25" y="995.27" width="8.60" height="8.60" fill="#000"/>
<rect x="1159.44" y="996.10" width="8.60" height="8.60" fill="#000"/>
<rect x="1157.63" y="996.96" width="8.60" height="8.60" fill="#000"/>
<rect x="1155.91" y="997.96" width="8.60" height="8.60" fill="#000"/>
<rect x="1154.28" y="999.13" width="8.60" height="8.60" fill="#000"/>
<rect x="1152.65" y="1000.29" width="8.60" height="8.60" fill="#000"/>
<rect x="1151.03" y="1001.45" width="8.60" height="8.60" fill="#000"/>
<rect x="1149.52" y="1002.76" width="8.60" height="8.60" fill="#000"/>
<rect x="1148.10" y="1004.16" width="8.60" height="8.60" fill="#000"/>
<rect x="1146.67" y="1005.57" width="8.60" height="8.60" fill="#000"/>
<rect x="1145.25" y="1006.97" width="8.60" height="8.60" fill="#000"/>
<rect x="1143.85" y="1008.40" width="8.60" height="8.60" fill="#000"/>
<rect x="1142.59" y="1009.95" width="8.60" height="8.60" fill="#000"/>
<rect x="1141.33" y="1011.50" width="8.60" height="8.60" fill="#000"/>
<rect x="1140.06" y="1013.05" width="8.60" height="8.60" fill="#000"/>
<rect x="1139.44" y="1014.90" width="8.60" height="8.60" fill="#000"/>
<circle cx="1202.80" cy="664.70" r="5.20" fill="#ff0000"/>
<circle cx="1186.90" cy="719.90" r="5.20" fill="#ff0000"/>
<circle cx="1173.00" cy="766.40" r="5.20" fill="#ff0000"/>
<circle cx="1161.00" cy="805.10" r="5.20" fill="#ff0000"/>
<circle cx="1150.30" cy="837.30" r="5.20" fill="#ff0000"/>
<circle cx="1141.40" cy="864.20" r="5.20" fill="#ff0000"/>
<circle cx="1133.70" cy="887.40" r="5.20" fill="#ff0000"/>
<circle cx="1126.50" cy="906.80" r="5.20" fill="#ff0000"/>
<circle cx="1120.20" cy="923.10" r="5.20" fill="#ff0000"/>
<circle cx="1114.70" cy="936.90" r="5.20" fill="#ff0000"/>
<circle cx="1109.90" cy="948.30" r="5.20" fill="#ff0000"/>
<circle cx="1105.40" cy="958.20" r="5.20" fill="#ff0000"/>
<circle cx="1101.60" cy="966.90" r="5.20" fill="#ff0000"/>
<circle cx="1098.20" cy="974.90" r="5.20" fill="#ff0000"/>
<circle cx="1095.50" cy="980.90" r="5.20" fill="#ff0000"/>
<circle cx="1093.20" cy="986.20" r="5.20" fill="#ff0000"/>
<circle cx="1093.20" cy="986.20" r="5.20" fill="#ff0000"/>
<circle cx="1092.40" cy="988.03" r="5.20" fill="#ff0000"/>
<circle cx="1091.61" cy="989.87" r="5.20" fill="#ff0000"/>
<circle cx="1090.81" cy="991.70" r="5.20" fill="#ff0000"/>
<circle cx="1089.94" cy="993.50" r="5.20" fill="#ff0000"/>
<circle cx="1088.83" cy="995.16" r="5.20" fill="#ff0000"/>
<circle cx="1087.73" cy="996.83" r="5.20" fill="#ff0000"/>
<circle cx="1086.63" cy="998.50" r="5.20" fill="#ff0000"/>
<circle cx="1085.49" cy="1000.14" r="5.20" fill="#ff0000"/>
<circle cx="1084.15" cy="1001.63" r="5.20" fill="#ff0000"/>
<circle cx="1082.81" cy="1003.12" r="5.20" fill="#ff0000"/>
<circle cx="1081.48" cy="1004.61" r="5.20" fill="#ff0000"/>
<circle cx="1080.14" cy="1006.09" r="5.20" fill="#ff0000"/>
<circle cx="1078.59" cy="1007.33" r="5.20" fill="#ff0000"/>
<circle cx="1076.90" cy="1008.39" r="5.20" fill="#ff0000"/>
<circle cx="1075.20" cy="1009.44" r="5.20" fill="#ff0000"/>
<circle cx="1073.50" cy="1010.50" r="5.20" fill="#ff0000"/>
<circle cx="1071.52" cy="1010.76" r="5.20" fill="#ff0000"/>
<circle cx="1069.54" cy="1011.03" r="5.20" fill="#ff0000"/>
<circle cx="1067.55" cy="1011.29" r="5.20" fill="#ff0000"/>
<circle cx="1065.72" cy="1010.51" r="5.20" fill="#ff0000"/>
<circle cx="1063.89" cy="1009.70" r="5.20" fill="#ff0000"/>
<circle cx="1062.06" cy="1008.89" r="5.20" fill="#ff0000"/>
<circle cx="1060.14" cy="1008.37" r="5.20" fill="#ff0000"/>
<circle cx="1058.18" cy="1008.02" r="5.20" fill="#ff0000"/>
<circle cx="1056.21" cy="1007.66" r="5.20" fill="#ff0000"/>
<circle cx="1054.25" cy="1007.76" r="5.20" fill="#ff0000"/>
<circle cx="1052.31" cy="1008.25" r="5.20" fill="#ff0000"/>
<circle cx="1050.37" cy="1008.73" r="5.20" fill="#ff0000"/>
<circle cx="1048.54" cy="1009.47" r="5.20" fill="#ff0000"/>
<circle cx="1046.84" cy="1010.53" r="5.20" fill="#ff0000"/>
<circle cx="1045.15" cy="1011.59" r="5.20" fill="#ff0000"/>
<circle cx="1043.45" cy="1012.64" r="5.20" fill="#ff0000"/>
<circle cx="1041.90" cy="1013.90" r="5.20" fill="#ff0000"/>
<circle cx="1040.37" cy="1015.20" r="5.20" fill="#ff0000"/>
<circle cx="1038.85" cy="1016.49" r="5.20" fill="#ff0000"/>
<circle cx="1037.38" cy="1017.85" r="5.20" fill="#ff0000"/>
<circle cx="1036.02" cy="1019.31" r="5.20" fill="#ff0000"/>
<polygon points="1111.00,654.00 1117.10,664.60 1104.90,664.60" fill="#0000ff"/>
<polygon points="1094.00,712.60 1100.10,723.20 1087.90,723.20" fill="#0000ff"/>
<polygon points="1080.20,761.20 1086.30,771.80 1074.10,771.80" fill="#0000ff"/>
<polygon points="1068.50,802.20 1074.60,812.80 1062.40,812.80" fill="#0000ff"/>
<polygon points="1058.90,835.40 1065.00,846.00 1052.80,846.00" fill="#0000ff"/>
<polygon points="1050.60,865.00 1056.70,875.60 1044.50,875.60" fill="#0000ff"/>
<polygon points="1043.70,888.90 1049.80,899.50 1037.60,899.50" fill="#0000ff"/>
<polygon points="1037.80,908.40 1043.90,919.00 1031.70,919.00" fill="#0000ff"/>
<polygon points="1032.70,925.70 1038.80,936.30 1026.60,936.30" fill="#0000ff"/>
<polygon points="1028.10,939.40 1034.20,950.00 1022.00,950.00" fill="#0000ff"/>
<polygon points="1023.90,950.00 1030.00,960.60 1017.80,960.60" fill="#0000ff"/>
<polygon points="1020.90,959.90 1027.00,970.50 1014.80,970.50" fill="#0000ff"/>
<polygon points="1017.80,968.60 1023.90,979.20 1011.70,979.20" fill="#0000ff"/>
<polygon points="1015.60,975.80 1021.70,986.40 1009.50,986.40" fill="#0000ff"/>
<polygon points="1013.30,981.10 1019.40,991.70 1007.20,991.70" fill="#0000ff"/>
<polygon points="1011.00,986.80 1017.10,997.40 1004.90,997.40" fill="#0000ff"/>
<polygon points="1009.10,991.00 1015.20,1001.60 1003.00,1001.60" fill="#0000ff"/>
<polygon points="1006.80,996.30 1012.90,1006.90 1000.70,1006.90" fill="#0000ff"/>
<polygon points="1006.80,996.30 1012.90,1006.90 1000.70,1006.90" fill="#0000ff"/>
<polygon points="1005.92,998.10 1012.02,1008.70 999.82,1008.70" fill="#0000ff"/>
<polygon points="1005.04,999.89 1011.14,1010.49 998.94,1010.49" fill="#0000ff"/>
<polygon points="1004.16,1001.69 1010.26,1012.29 998.06,1012.29" fill="#0000ff"/>
<polygon points="1003.26,1003.48 1009.36,1014.08 997.16,1014.08" fill="#0000ff"/>
<polygon points="1002.37,1005.26 1008.47,1015.86 996.27,1015.86" fill="#0000ff"/>
<polygon points="1001.34,1006.98 1007.44,1017.58 995.24,1017.58" fill="#0000ff"/>
<polygon points="1000.31,1008.69 1006.41,1019.29 994.21,1019.29" fill="#0000ff"/>
<polygon points="998.68,1009.69 1004.78,1020.29 992.58,1020.29" fill="#0000ff"/>
<polygon points="996.81,1010.40 1002.91,1021.00 990.71,1021.00" fill="#0000ff"/>
<polygon points="994.91,1010.37 1001.01,1020.97 988.81,1020.97" fill="#0000ff"/>
<polygon points="993.00,1009.80 999.10,1020.40 986.90,1020.40" fill="#0000ff"/>
<polygon points="991.08,1009.22 997.18,1019.82 984.98,1019.82" fill="#0000ff"/>
<polygon points="989.10,1009.01 995.20,1019.61 983.00,1019.61" fill="#0000ff"/>
<polygon points="987.11,1008.81 993.21,1019.41 981.01,1019.41" fill="#0000ff"/>
<polygon points="985.16,1008.98 991.26,1019.58 979.06,1019.58" fill="#0000ff"/>
<polygon points="983.26,1009.61 989.36,1020.21 977.16,1020.21" fill="#0000ff"/>
<polygon points="981.36,1010.25 987.46,1020.85 975.26,1020.85" fill="#0000ff"/>
<polygon points="979.55,1011.05 985.65,1021.65 973.45,1021.65" fill="#0000ff"/>
<polygon points="977.98,1012.27 984.08,1022.87 971.88,1022.87" fill="#0000ff"/>
<polygon points="976.40,1013.50 982.50,1024.10 970.30,1024.10" fill="#0000ff"/>
<polygon points="1078.60,655.60 1084.90,645.00 1072.30,645.00" fill="#ff00ff"/>
<polygon points="1058.90,717.30 1065.20,706.70 1052.60,706.70" fill="#ff00ff"/>
<polygon points="1043.30,768.70 1049.60,758.10 1037.00,758.10" fill="#ff00ff"/>
<polygon points="1031.30,812.10 1037.60,801.50 1025.00,801.50" fill="#ff00ff"/>
<polygon points="1021.70,848.70 1028.00,838.10 1015.40,838.10" fill="#ff00ff"/>
<polygon points="1013.80,878.40 1020.10,867.80 1007.50,867.80" fill="#ff00ff"/>
<polygon points="1007.50,903.20 1013.80,892.60 1001.20,892.60" fill="#ff00ff"/>
<polygon points="1001.70,923.90 1008.00,913.30 995.40,913.30" fill="#ff00ff"/>
<polygon points="997.50,941.10 1003.80,930.50 991.20,930.50" fill="#ff00ff"/>
<polygon points="993.70,954.90 1000.00,944.30 987.40,944.30" fill="#ff00ff"/>
<polygon points="990.00,967.80 996.30,957.20 983.70,957.20" fill="#ff00ff"/>
<polygon points="986.90,978.00 993.20,967.40 980.60,967.40" fill="#ff00ff"/>
<polygon points="984.70,986.80 991.00,976.20 978.40,976.20" fill="#ff00ff"/>
<polygon points="982.40,993.20 988.70,982.60 976.10,982.60" fill="#ff00ff"/>
<polygon points="980.50,998.50 986.80,987.90 974.20,987.90" fill="#ff00ff"/>
<polygon points="978.50,1003.80 984.80,993.20 972.20,993.20" fill="#ff00ff"/>
<polygon points="976.50,1008.80 982.80,998.20 970.20,998.20" fill="#ff00ff"/>
<polygon points="974.50,1013.80 980.80,1003.20 968.20,1003.20" fill="#ff00ff"/>
<polygon points="974.50,1013.80 980.80,1003.20 968.20,1003.20" fill="#ff00ff"/>
<polygon points="973.69,1015.63 979.99,1005.03 967.39,1005.03" fill="#ff00ff"/>
<polygon points="972.88,1017.46 979.18,1006.86 966.58,1006.86" fill="#ff00ff"/>
<polygon points="971.98,1019.24 978.28,1008.64 965.68,1008.64" fill="#ff00ff"/>
<polygon points="971.01,1020.99 977.31,1010.39 964.71,1010.39" fill="#ff00ff"/>
<polygon points="970.04,1022.74 976.34,1012.14 963.74,1012.14" fill="#ff00ff"/>
<polygon points="968.64,1024.16 974.94,1013.56 962.34,1013.56" fill="#ff00ff"/>
<polygon points="967.22,1025.58 973.52,1014.98 960.92,1014.98" fill="#ff00ff"/>
<polygon points="965.49,1025.05 971.79,1014.45 959.19,1014.45" fill="#ff00ff"/>
<polygon points="963.70,1024.15 970.00,1013.55 957.40,1013.55" fill="#ff00ff"/>
<polygon points="961.92,1023.26 968.22,1012.66 955.62,1012.66" fill="#ff00ff"/>
<polygon points="960.13,1022.36 966.43,1011.76 953.83,1011.76" fill="#ff00ff"/>
<polygon points="958.34,1021.47 964.64,1010.87 952.04,1010.87" fill="#ff00ff"/>
<polygon points="956.41,1020.98 962.71,1010.38 950.11,1010.38" fill="#ff00ff"/>
<polygon points="954.45,1020.59 960.75,1009.99 948.15,1009.99" fill="#ff00ff"/>
<polygon points="952.46,1020.50 958.76,1009.90 946.16,1009.90" fill="#ff00ff"/>
<polygon points="950.46,1020.50 956.76,1009.90 944.16,1009.90" fill="#ff00ff"/>
<polygon points="948.53,1020.97 954.83,1010.37 942.23,1010.37" fill="#ff00ff"/>
<polygon points="946.62,1021.58 952.92,1010.98 940.32,1010.98" fill="#ff00ff"/>
<polygon points="944.77,1022.29 951.07,1011.69 938.47,1011.69" fill="#ff00ff"/>
<polygon points="943.23,1023.56 949.53,1012.96 936.93,1012.96" fill="#ff00ff"/>
<polygon points="941.68,1024.83 947.98,1014.23 935.38,1014.23" fill="#ff00ff"/>
<polygon points="1098.60,645.00 1104.90,651.30 1098.60,657.60 1092.30,651.30" fill="#007f00"/>
<polygon points="1072.90,698.10 1079.20,704.40 1072.90,710.70 1066.60,704.40" fill="#007f00"/>
<polygon points="1052.00,744.70 1058.30,751.00 1052.00,757.30 1045.70,751.00" fill="#007f00"/>
<polygon points="1035.00,785.70 1041.30,792.00 1035.00,798.30 1028.70,792.00" fill="#007f00"/>
<polygon points="1021.20,821.30 1027.50,827.60 1021.20,833.90 1014.90,827.60" fill="#007f00"/>
<polygon points="1009.90,851.20 1016.20,857.50 1009.90,863.80 1003.60,857.50" fill="#007f00"/>
<polygon points="1001.00,877.40 1007.30,883.70 1001.00,890.00 994.70,883.70" fill="#007f00"/>
<polygon points="993.70,899.20 1000.00,905.50 993.70,911.80 987.40,905.50" fill="#007f00"/>
<polygon points="987.60,917.80 993.90,924.10 987.60,930.40 981.30,924.10" fill="#007f00"/>
<polygon points="982.40,933.30 988.70,939.60 982.40,945.90 976.10,939.60" fill="#007f00"/>
<polygon points="978.10,947.10 984.40,953.40 978.10,959.70 971.80,953.40" fill="#007f00"/>
<polygon points="974.70,957.70 981.00,964.00 974.70,970.30 968.40,964.00" fill="#007f00"/>
<polygon points="971.60,967.20 977.90,973.50 971.60,979.80 965.30,973.50" fill="#007f00"/>
<polygon points="969.00,974.80 975.30,981.10 969.00,987.40 962.70,981.10" fill="#007f00"/>
<polygon points="967.10,980.80 973.40,987.10 967.10,993.40 960.80,987.10" fill="#007f00"/>
<polygon points="965.20,986.90 971.50,993.20 965.20,999.50 958.90,993.20" fill="#007f00"/>
<polygon points="963.30,992.20 969.60,998.50 963.30,1004.80 957.00,998.50" fill="#007f00"/>
<polygon points="961.40,998.30 967.70,1004.60 961.40,1010.90 955.10,1004.60" fill="#007f00"/>
<polygon points="959.50,1003.60 965.80,1009.90 959.50,1016.20 953.20,1009.90" fill="#007f00"/>
<polygon points="959.50,1003.60 965.80,1009.90 959.50,1016.20 953.20,1009.90" fill="#007f00"/>
<polygon points="958.83,1005.48 965.13,1011.78 958.83,1018.08 952.53,1011.78" fill="#007f00"/>
<polygon points="958.15,1007.37 964.45,1013.67 958.15,1019.97 951.85,1013.67" fill="#007f00"/>
<polygon points="957.43,1009.23 963.73,1015.53 957.43,1021.83 951.13,1015.53" fill="#007f00"/>
<polygon points="956.48,1010.99 962.78,1017.29 956.48,1023.59 950.18,1017.29" fill="#007f00"/>
<polygon points="955.54,1012.75 961.84,1019.05 955.54,1025.35 949.24,1019.05" fill="#007f00"/>
<polygon points="953.84,1013.51 960.14,1019.81 953.84,1026.11 947.54,1019.81" fill="#007f00"/>
<polygon points="951.88,1013.89 958.18,1020.19 951.88,1026.49 945.58,1020.19" fill="#007f00"/>
<polygon points="949.89,1013.69 956.19,1019.99 949.89,1026.29 943.59,1019.99" fill="#007f00"/>
<polygon points="947.90,1013.51 954.20,1019.81 947.90,1026.11 941.60,1019.81" fill="#007f00"/>
<polygon points="945.92,1013.76 952.22,1020.06 945.92,1026.36 939.62,1020.06" fill="#007f00"/>
<polygon points="943.93,1014.02 950.23,1020.32 943.93,1026.62 937.63,1020.32" fill="#007f00"/>
<polygon points="942.04,1014.65 948.34,1020.95 942.04,1027.25 935.74,1020.95" fill="#007f00"/>
<rect x="873.30" y="610.90" width="557.30" height="415.00" fill="none" stroke="#000" stroke-width="2.7" stroke-linejoin="round"/>
<line x1="864.20" y1="1025.90" x2="873.30" y2="1025.90" stroke="#000" stroke-width="2.7" stroke-linecap="round"/>
<text x="853.2" y="1034.7" font-size="30" text-anchor="end">0</text>
<line x1="864.20" y1="922.30" x2="873.30" y2="922.30" stroke="#000" stroke-width="2.7" stroke-linecap="round"/>
<text x="853.2" y="931.1" font-size="30" text-anchor="end">5</text>
<line x1="864.20" y1="818.70" x2="873.30" y2="818.70" stroke="#000" stroke-width="2.7" stroke-linecap="round"/>
<text x="853.2" y="827.5" font-size="30" text-anchor="end">10</text>
<line x1="864.20" y1="715.10" x2="873.30" y2="715.10" stroke="#000" stroke-width="2.7" stroke-linecap="round"/>
<text x="853.2" y="723.9" font-size="30" text-anchor="end">15</text>
<line x1="864.20" y1="611.50" x2="873.30" y2="611.50" stroke="#000" stroke-width="2.7" stroke-linecap="round"/>
<text x="853.2" y="620.3" font-size="30" text-anchor="end">20</text>
<line x1="873.50" y1="1025.90" x2="873.50" y2="1035.20" stroke="#000" stroke-width="2.7" stroke-linecap="round"/>
<text x="873.5" y="1069.4" font-size="30" text-anchor="middle">0</text>
<line x1="1012.80" y1="1025.90" x2="1012.80" y2="1035.20" stroke="#000" stroke-width="2.7" stroke-linecap="round"/>
<text x="1012.8" y="1069.4" font-size="30" text-anchor="middle">10</text>
<line x1="1152.10" y1="1025.90" x2="1152.10" y2="1035.20" stroke="#000" stroke-width="2.7" stroke-linecap="round"/>
<text x="1152.1" y="1069.4" font-size="30" text-anchor="middle">20</text>
<line x1="1291.40" y1="1025.90" x2="1291.40" y2="1035.20" stroke="#000" stroke-width="2.7" stroke-linecap="round"/>
<text x="1291.4" y="1069.4" font-size="30" text-anchor="middle">30</text>
<line x1="1430.70" y1="1025.90" x2="1430.70" y2="1035.20" stroke="#000" stroke-width="2.7" stroke-linecap="round"/>
<text x="1430.7" y="1069.4" font-size="30" text-anchor="middle">40</text>
<text x="1110.5" y="1111.6" font-size="29">Z′ <tspan font-family="Liberation Serif" font-size="31">(Ω)</tspan></text>
<g transform="translate(795.8,871.5) rotate(-90)">
<text x="0" y="0" font-size="29">–Z″ <tspan font-family="Liberation Serif" font-size="31">(Ω)</tspan></text>
</g>
<rect x="1325.00" y="853.10" width="9.00" height="9.00" fill="#000"/>
<circle cx="1329.50" cy="891.70" r="5.30" fill="#ff0000"/>
<polygon points="1329.50,919.90 1335.80,930.50 1323.20,930.50" fill="#0000ff"/>
<polygon points="1329.50,966.30 1335.80,955.70 1323.20,955.70" fill="#ff00ff"/>
<polygon points="1329.50,988.30 1335.80,994.60 1329.50,1000.90 1323.20,994.60" fill="#007f00"/>
<text x="1344.6" y="865.2" font-size="24" textLength="62" lengthAdjust="spacingAndGlyphs">20 °C</text>
<text x="1344.6" y="899.3" font-size="24" textLength="62" lengthAdjust="spacingAndGlyphs">35 °C</text>
<text x="1344.6" y="933.4" font-size="24" textLength="62" lengthAdjust="spacingAndGlyphs">50 °C</text>
<text x="1344.6" y="967.5" font-size="24" textLength="62" lengthAdjust="spacingAndGlyphs">65 °C</text>
<text x="1344.6" y="1001.6" font-size="24" textLength="62" lengthAdjust="spacingAndGlyphs">80 °C</text>
<text x="754.5" y="614.5" font-size="41" font-weight="bold" textLength="26" lengthAdjust="spacingAndGlyphs">d</text>
</g>
<g id="pe">
<defs><clipPath id="ce"><rect x="63.9" y="1193.8" width="626.5" height="462.8"/></clipPath><filter id="bl6" x="-50%" y="-50%" width="200%" height="200%"><feGaussianBlur stdDeviation="6"/></filter><filter id="bl3" x="-50%" y="-50%" width="200%" height="200%"><feGaussianBlur stdDeviation="3"/></filter><filter id="bl12" x="-50%" y="-50%" width="200%" height="200%"><feGaussianBlur stdDeviation="12"/></filter><filter id="bl20" x="-50%" y="-50%" width="200%" height="200%"><feGaussianBlur stdDeviation="20"/></filter><linearGradient id="cbar" x1="0" y1="0" x2="0" y2="1"><stop offset="0" stop-color="#ffffff"/><stop offset="0.048" stop-color="#fff0ee"/><stop offset="0.093" stop-color="#ffa8a0"/><stop offset="0.137" stop-color="#ff3020"/><stop offset="0.195" stop-color="#ff1a10"/><stop offset="0.212" stop-color="#ff3a10"/><stop offset="0.249" stop-color="#ff7010"/><stop offset="0.295" stop-color="#ffa810"/><stop offset="0.338" stop-color="#ffe010"/><stop offset="0.37" stop-color="#f0f010"/><stop offset="0.396" stop-color="#a8e010"/><stop offset="0.428" stop-color="#40b010"/><stop offset="0.562" stop-color="#10981c"/><stop offset="0.597" stop-color="#109040"/><stop offset="0.64" stop-color="#1078b0"/><stop offset="0.662" stop-color="#1060e0"/><stop offset="0.77" stop-color="#0848d8"/><stop offset="0.824" stop-color="#041c80"/><stop offset="0.88" stop-color="#020a40"/><stop offset="0.932" stop-color="#000208"/><stop offset="1" stop-color="#000000"/></linearGradient><linearGradient id="ebg" x1="0" y1="0" x2="1" y2="0"><stop offset="0" stop-color="#0a3cc0"/><stop offset="0.5" stop-color="#0a44cc"/><stop offset="0.8" stop-color="#0838b8"/><stop offset="0.9" stop-color="#06289a"/><stop offset="1" stop-color="#041a78"/></linearGradient></defs>
<g clip-path="url(#ce)">
<rect x="63.9" y="1193.8" width="626.5" height="462.8" fill="#003ec6"/>
<rect x="120" y="1180" width="580" height="48" fill="#002c9e" filter="url(#bl12)"/>
<ellipse cx="470" cy="1270" rx="230" ry="45" fill="#002a9c" filter="url(#bl20)"/>
<ellipse cx="215" cy="1430" rx="110" ry="140" fill="#0656e4" filter="url(#bl20)"/>
<ellipse cx="430" cy="1450" rx="90" ry="80" fill="#024ad8" filter="url(#bl20)"/>
<rect x="135" y="1498" width="480" height="32" fill="#0452de" filter="url(#bl12)"/>
<rect x="135" y="1535" width="480" height="24" fill="#002ea8" filter="url(#bl12)"/>
<rect x="135" y="1568" width="500" height="70" fill="#034ada" filter="url(#bl12)"/>
<rect x="600" y="1180" width="100" height="120" fill="#001880" filter="url(#bl20)"/>
<rect x="622" y="1230" width="80" height="380" fill="#001676" filter="url(#bl12)"/>
<rect x="640" y="1300" width="50" height="290" fill="#000a50" filter="url(#bl6)"/>
<rect x="81.9" y="1190" width="45" height="470" fill="#00287e"/>
<rect x="122" y="1190" width="14" height="470" fill="#0036a8" filter="url(#bl3)"/>
<ellipse cx="222" cy="1425" rx="62" ry="66" fill="#1a9a68" opacity="0.75" filter="url(#bl12)"/>
<ellipse cx="268" cy="1345" rx="10" ry="24" fill="#1a9a60" opacity="0.6" filter="url(#bl6)" transform="rotate(20 268 1345)"/>
<ellipse cx="212" cy="1443" rx="52" ry="52" fill="#109a22" filter="url(#bl6)"/>
<path d="M199.70,1424.80 C201.77,1424.12 207.27,1421.03 212.10,1420.70 C216.93,1420.37 224.57,1421.42 228.70,1422.80 C232.83,1424.18 234.67,1425.22 236.90,1429.00 C239.13,1432.78 241.75,1440.68 242.10,1445.50 C242.45,1450.32 241.23,1453.77 239.00,1457.90 C236.77,1462.03 231.80,1466.85 228.70,1470.30 C225.60,1473.75 223.85,1476.53 220.40,1478.60 C216.95,1480.67 211.78,1482.37 208.00,1482.70 C204.22,1483.03 201.15,1482.32 197.70,1480.60 C194.25,1478.88 190.07,1475.83 187.30,1472.40 C184.53,1468.97 181.78,1464.48 181.10,1460.00 C180.42,1455.52 181.82,1449.63 183.20,1445.50 C184.58,1441.37 186.65,1438.65 189.40,1435.20 C192.15,1431.75 197.98,1426.53 199.70,1424.80 Z" fill="#38b818" stroke="#38b818" stroke-width="26" stroke-linejoin="round" filter="url(#bl6)"/>
<path d="M199.70,1424.80 C201.77,1424.12 207.27,1421.03 212.10,1420.70 C216.93,1420.37 224.57,1421.42 228.70,1422.80 C232.83,1424.18 234.67,1425.22 236.90,1429.00 C239.13,1432.78 241.75,1440.68 242.10,1445.50 C242.45,1450.32 241.23,1453.77 239.00,1457.90 C236.77,1462.03 231.80,1466.85 228.70,1470.30 C225.60,1473.75 223.85,1476.53 220.40,1478.60 C216.95,1480.67 211.78,1482.37 208.00,1482.70 C204.22,1483.03 201.15,1482.32 197.70,1480.60 C194.25,1478.88 190.07,1475.83 187.30,1472.40 C184.53,1468.97 181.78,1464.48 181.10,1460.00 C180.42,1455.52 181.82,1449.63 183.20,1445.50 C184.58,1441.37 186.65,1438.65 189.40,1435.20 C192.15,1431.75 197.98,1426.53 199.70,1424.80 Z" fill="#a0e010" stroke="#a0e010" stroke-width="14" stroke-linejoin="round" filter="url(#bl3)"/>
<path d="M199.70,1424.80 C201.77,1424.12 207.27,1421.03 212.10,1420.70 C216.93,1420.37 224.57,1421.42 228.70,1422.80 C232.83,1424.18 234.67,1425.22 236.90,1429.00 C239.13,1432.78 241.75,1440.68 242.10,1445.50 C242.45,1450.32 241.23,1453.77 239.00,1457.90 C236.77,1462.03 231.80,1466.85 228.70,1470.30 C225.60,1473.75 223.85,1476.53 220.40,1478.60 C216.95,1480.67 211.78,1482.37 208.00,1482.70 C204.22,1483.03 201.15,1482.32 197.70,1480.60 C194.25,1478.88 190.07,1475.83 187.30,1472.40 C184.53,1468.97 181.78,1464.48 181.10,1460.00 C180.42,1455.52 181.82,1449.63 183.20,1445.50 C184.58,1441.37 186.65,1438.65 189.40,1435.20 C192.15,1431.75 197.98,1426.53 199.70,1424.80 Z" fill="#f4f000" stroke="#f4f000" stroke-width="7" stroke-linejoin="round" filter="url(#bl3)"/>
<path d="M199.70,1424.80 C201.77,1424.12 207.27,1421.03 212.10,1420.70 C216.93,1420.37 224.57,1421.42 228.70,1422.80 C232.83,1424.18 234.67,1425.22 236.90,1429.00 C239.13,1432.78 241.75,1440.68 242.10,1445.50 C242.45,1450.32 241.23,1453.77 239.00,1457.90 C236.77,1462.03 231.80,1466.85 228.70,1470.30 C225.60,1473.75 223.85,1476.53 220.40,1478.60 C216.95,1480.67 211.78,1482.37 208.00,1482.70 C204.22,1483.03 201.15,1482.32 197.70,1480.60 C194.25,1478.88 190.07,1475.83 187.30,1472.40 C184.53,1468.97 181.78,1464.48 181.10,1460.00 C180.42,1455.52 181.82,1449.63 183.20,1445.50 C184.58,1441.37 186.65,1438.65 189.40,1435.20 C192.15,1431.75 197.98,1426.53 199.70,1424.80 Z" fill="#ff2a10" stroke="#ff2a10" stroke-width="2.5" stroke-linejoin="round"/>
<path d="M199.70,1424.80 C201.77,1424.12 207.27,1421.03 212.10,1420.70 C216.93,1420.37 224.57,1421.42 228.70,1422.80 C232.83,1424.18 234.67,1425.22 236.90,1429.00 C239.13,1432.78 241.75,1440.68 242.10,1445.50 C242.45,1450.32 241.23,1453.77 239.00,1457.90 C236.77,1462.03 231.80,1466.85 228.70,1470.30 C225.60,1473.75 223.85,1476.53 220.40,1478.60 C216.95,1480.67 211.78,1482.37 208.00,1482.70 C204.22,1483.03 201.15,1482.32 197.70,1480.60 C194.25,1478.88 190.07,1475.83 187.30,1472.40 C184.53,1468.97 181.78,1464.48 181.10,1460.00 C180.42,1455.52 181.82,1449.63 183.20,1445.50 C184.58,1441.37 186.65,1438.65 189.40,1435.20 C192.15,1431.75 197.98,1426.53 199.70,1424.80 Z" fill="#ff5a4c" transform="translate(212 1452) scale(0.92) translate(-212 -1452)"/>
<path d="M188,1447 C192,1440 198,1437 200,1445 C201,1455 196,1465 190,1462 Z" fill="#ff3a20" opacity="0.7"/>
<ellipse cx="446" cy="1455" rx="44" ry="44" fill="#1a8a80" opacity="0.65" filter="url(#bl6)"/>
<path d="M412,1436 C425,1428 468,1428 480,1438 C482,1462 470,1494 447,1498 C426,1494 410,1462 412,1436 Z" fill="#14a02a" filter="url(#bl6)"/>
<ellipse cx="447" cy="1467" rx="17" ry="17" fill="#90d820" filter="url(#bl3)"/>
<ellipse cx="446" cy="1468" rx="10" ry="10" fill="#d0ee40" filter="url(#bl3)"/>
<rect x="63.9" y="1193.8" width="18" height="462.8" fill="url(#cbar)"/>
<rect x="63.9" y="1193.8" width="2.2" height="462.8" fill="#1040d0"/>
</g>
<circle cx="201.3" cy="1442.3" r="58.2" fill="none" stroke="#000" stroke-width="3.2" stroke-dasharray="10 6.6"/>
<circle cx="434.6" cy="1441.5" r="58.2" fill="none" stroke="#000" stroke-width="3.2" stroke-dasharray="10 6.6"/>
<text x="185.5" y="1334.3" font-size="28" fill="#ff1232">T1</text>
<text x="419.5" y="1334.3" font-size="28" fill="#ff1232">T2</text>
<text x="197.5" y="1583.1" font-size="29" fill="#ff1232" textLength="344" lengthAdjust="spacingAndGlyphs">After overcharge for 30min</text>
<text x="84.5" y="1205" font-size="11.5" font-weight="bold" fill="#d8e0f0">33 °C</text>
<text x="84.5" y="1654" font-size="11.5" font-weight="bold" fill="#d8e0f0">27 °C</text>
<text x="671.5" y="1219.7" font-size="13" fill="#f0f0f0" text-anchor="end">31°17′8″ 北</text>
<text x="671.5" y="1236" font-size="13" fill="#f0f0f0" text-anchor="end">121°29′52″ 东</text>
<text x="621" y="1640" font-size="22" fill="#5a70b8" opacity="0.45">seek</text>
<text x="0.0" y="1200.0" font-size="40" font-weight="bold">e</text>
</g>
<g id="pf">
<defs><clipPath id="cf1"><rect x="902.1" y="1315.2" width="139.6" height="93.4"/></clipPath><linearGradient id="mf1" x1="0.45" y1="0.2" x2="0.55" y2="0.8"><stop offset="0" stop-color="#c4c0ba"/><stop offset="0.28" stop-color="#9a968f"/><stop offset="0.5" stop-color="#5e5a56"/><stop offset="0.68" stop-color="#aaa49e"/><stop offset="1" stop-color="#46444a"/></linearGradient><linearGradient id="gf1" x1="0" y1="0" x2="1" y2="1"><stop offset="0" stop-color="#78b4dc"/><stop offset="0.6" stop-color="#66a6d2"/><stop offset="1" stop-color="#4e90c2"/></linearGradient><filter id="fsf1"><feGaussianBlur stdDeviation="0.8"/></filter></defs>
<g clip-path="url(#cf1)">
<rect x="902.1" y="1315.2" width="139.6" height="93.4" fill="#4fb3dd"/>
<path d="M902.1,1315.2 L985.9,1315.2 C999.8,1324.5 1006.8,1347.9 1002.6,1366.6 C999.8,1385.2 994.2,1399.3 992.8,1408.6 L902.1,1408.6 Z" fill="url(#gf1)"/>
<path d="M902.1,1389.9 C916.1,1382.4 930.0,1382.4 944.0,1389.9 L951.0,1408.6 L902.1,1408.6 Z" fill="#2a5682" opacity="0.75"/>
<path d="M897.9,1395.5 C937.0,1373.1 978.9,1345.1 1012.9,1331.6 C1024.9,1328.3 1036.1,1335.7 1032.3,1348.8 C1020.8,1361.9 964.9,1386.2 902.1,1410.5 Z" fill="url(#mf1)" filter="url(#fsf1)"/>
<path d="M930.0,1382.4 C964.9,1366.6 999.8,1350.7 1027.7,1341.4" fill="none" stroke="#4a4846" stroke-width="1.3" opacity="0.8"/>
</g>
<defs><clipPath id="cf2"><rect x="1273.7" y="1516.4" width="139.2" height="92.6"/></clipPath><linearGradient id="mf2" x1="0.45" y1="0.2" x2="0.55" y2="0.8"><stop offset="0" stop-color="#c4c0ba"/><stop offset="0.28" stop-color="#9a968f"/><stop offset="0.5" stop-color="#5e5a56"/><stop offset="0.68" stop-color="#aaa49e"/><stop offset="1" stop-color="#46444a"/></linearGradient><linearGradient id="gf2" x1="0" y1="0" x2="1" y2="1"><stop offset="0" stop-color="#78b4dc"/><stop offset="0.6" stop-color="#66a6d2"/><stop offset="1" stop-color="#4e90c2"/></linearGradient><filter id="fsf2"><feGaussianBlur stdDeviation="0.8"/></filter></defs>
<g clip-path="url(#cf2)">
<rect x="1273.7" y="1516.4" width="139.2" height="92.6" fill="#4fb3dd"/>
<path d="M1273.7,1516.4 L1371.1,1516.4 C1365.6,1534.9 1373.9,1553.4 1385.1,1562.7 C1378.1,1581.2 1373.9,1595.1 1376.7,1609.0 L1273.7,1609.0 Z" fill="url(#gf2)"/>
<path d="M1365.6,1521.0 C1378.1,1516.4 1387.8,1525.7 1392.0,1544.2 L1371.1,1544.2 Z" fill="#8cc8e8" opacity="0.7"/>
<path d="M1273.7,1583.1 C1282.1,1579.4 1290.4,1581.2 1294.6,1590.5 L1287.6,1609.0 L1273.7,1609.0 Z" fill="#2a5682" opacity="0.6"/>
<path d="M1287.1,1590.5 C1315.5,1567.3 1357.2,1544.2 1395.9,1529.6 C1403.2,1527.5 1410.8,1532.1 1407.3,1543.3 C1392.0,1555.3 1336.3,1577.5 1291.8,1602.5 C1286.2,1604.4 1284.1,1596.0 1287.1,1590.5 Z" fill="url(#mf2)" filter="url(#fsf2)"/>
<path d="M1301.5,1581.2 C1336.3,1564.6 1371.1,1549.7 1403.2,1536.8" fill="none" stroke="#4a4846" stroke-width="1.3" opacity="0.8"/>
</g>
<polygon points="877.00,1570.90 882.20,1579.70 871.80,1579.70" fill="#000"/>
<polygon points="886.29,1562.01 891.49,1570.81 881.09,1570.81" fill="#000"/>
<polygon points="895.58,1555.19 900.78,1563.99 890.38,1563.99" fill="#000"/>
<polygon points="904.87,1548.57 910.07,1557.37 899.67,1557.37" fill="#000"/>
<polygon points="914.16,1546.50 919.36,1555.30 908.96,1555.30" fill="#000"/>
<polygon points="923.45,1542.78 928.65,1551.58 918.25,1551.58" fill="#000"/>
<polygon points="932.74,1538.85 937.94,1547.65 927.54,1547.65" fill="#000"/>
<polygon points="942.03,1534.51 947.23,1543.31 936.83,1543.31" fill="#000"/>
<polygon points="951.32,1531.41 956.52,1540.21 946.12,1540.21" fill="#000"/>
<polygon points="960.61,1528.30 965.81,1537.10 955.41,1537.10" fill="#000"/>
<polygon points="969.90,1525.82 975.10,1534.62 964.70,1534.62" fill="#000"/>
<polygon points="979.19,1522.72 984.39,1531.52 973.99,1531.52" fill="#000"/>
<polygon points="988.48,1520.24 993.68,1529.04 983.28,1529.04" fill="#000"/>
<polygon points="997.77,1518.58 1002.97,1527.38 992.57,1527.38" fill="#000"/>
<polygon points="1007.06,1516.93 1012.26,1525.73 1001.86,1525.73" fill="#000"/>
<polygon points="1016.35,1515.07 1021.55,1523.87 1011.15,1523.87" fill="#000"/>
<polygon points="1025.64,1514.03 1030.84,1522.83 1020.44,1522.83" fill="#000"/>
<polygon points="1034.93,1512.38 1040.13,1521.18 1029.73,1521.18" fill="#000"/>
<polygon points="1044.22,1511.35 1049.42,1520.15 1039.02,1520.15" fill="#000"/>
<polygon points="1053.51,1509.69 1058.71,1518.49 1048.31,1518.49" fill="#000"/>
<polygon points="1062.80,1508.24 1068.00,1517.04 1057.60,1517.04" fill="#000"/>
<polygon points="1072.09,1506.80 1077.29,1515.60 1066.89,1515.60" fill="#000"/>
<polygon points="1081.38,1505.14 1086.58,1513.94 1076.18,1513.94" fill="#000"/>
<polygon points="1090.67,1504.11 1095.87,1512.91 1085.47,1512.91" fill="#000"/>
<polygon points="1099.96,1503.07 1105.16,1511.87 1094.76,1511.87" fill="#000"/>
<polygon points="1109.25,1502.04 1114.45,1510.84 1104.05,1510.84" fill="#000"/>
<polygon points="1118.54,1501.01 1123.74,1509.81 1113.34,1509.81" fill="#000"/>
<polygon points="1127.83,1500.39 1133.03,1509.19 1122.63,1509.19" fill="#000"/>
<polygon points="1137.12,1499.97 1142.32,1508.77 1131.92,1508.77" fill="#000"/>
<polygon points="1146.41,1499.56 1151.61,1508.36 1141.21,1508.36" fill="#000"/>
<polygon points="1155.70,1499.25 1160.90,1508.05 1150.50,1508.05" fill="#000"/>
<polygon points="1164.99,1498.83 1170.19,1507.63 1159.79,1507.63" fill="#000"/>
<polygon points="1174.28,1498.52 1179.48,1507.32 1169.08,1507.32" fill="#000"/>
<polygon points="1183.57,1498.21 1188.77,1507.01 1178.37,1507.01" fill="#000"/>
<polygon points="1192.86,1497.90 1198.06,1506.70 1187.66,1506.70" fill="#000"/>
<polygon points="1202.15,1497.49 1207.35,1506.29 1196.95,1506.29" fill="#000"/>
<polygon points="1211.44,1496.77 1216.64,1505.57 1206.24,1505.57" fill="#000"/>
<polygon points="1220.73,1496.15 1225.93,1504.95 1215.53,1504.95" fill="#000"/>
<polygon points="1230.02,1495.53 1235.22,1504.33 1224.82,1504.33" fill="#000"/>
<polygon points="1239.31,1494.70 1244.51,1503.50 1234.11,1503.50" fill="#000"/>
<polygon points="1248.60,1494.08 1253.80,1502.88 1243.40,1502.88" fill="#000"/>
<polygon points="1257.89,1494.08 1263.09,1502.88 1252.69,1502.88" fill="#000"/>
<polygon points="1267.18,1493.46 1272.38,1502.26 1261.98,1502.26" fill="#000"/>
<polygon points="1276.47,1493.46 1281.67,1502.26 1271.27,1502.26" fill="#000"/>
<polygon points="1285.76,1493.04 1290.96,1501.84 1280.56,1501.84" fill="#000"/>
<polygon points="1295.05,1492.01 1300.25,1500.81 1289.85,1500.81" fill="#000"/>
<polygon points="1304.34,1490.98 1309.54,1499.78 1299.14,1499.78" fill="#000"/>
<polygon points="1313.63,1489.94 1318.83,1498.74 1308.43,1498.74" fill="#000"/>
<polygon points="1322.92,1488.91 1328.12,1497.71 1317.72,1497.71" fill="#000"/>
<polygon points="1332.21,1487.87 1337.41,1496.67 1327.01,1496.67" fill="#000"/>
<polygon points="1341.50,1485.81 1346.70,1494.61 1336.30,1494.61" fill="#000"/>
<polygon points="1350.79,1485.81 1355.99,1494.61 1345.59,1494.61" fill="#000"/>
<polygon points="1360.08,1484.77 1365.28,1493.57 1354.88,1493.57" fill="#000"/>
<polygon points="1369.37,1483.74 1374.57,1492.54 1364.17,1492.54" fill="#000"/>
<polygon points="1378.66,1482.70 1383.86,1491.50 1373.46,1491.50" fill="#000"/>
<polygon points="1387.95,1480.64 1393.15,1489.44 1382.75,1489.44" fill="#000"/>
<polygon points="1397.24,1476.09 1402.44,1484.89 1392.04,1484.89" fill="#000"/>
<polygon points="1406.53,1471.95 1411.73,1480.75 1401.33,1480.75" fill="#000"/>
<polygon points="1415.82,1474.43 1421.02,1483.23 1410.62,1483.23" fill="#000"/>
<circle cx="877.00" cy="1575.72" r="4.80" fill="#ff0000"/>
<circle cx="886.29" cy="1571.58" r="4.80" fill="#ff0000"/>
<circle cx="895.58" cy="1563.31" r="4.80" fill="#ff0000"/>
<circle cx="904.87" cy="1553.38" r="4.80" fill="#ff0000"/>
<circle cx="914.16" cy="1544.70" r="4.80" fill="#ff0000"/>
<circle cx="923.45" cy="1536.43" r="4.80" fill="#ff0000"/>
<circle cx="932.74" cy="1528.15" r="4.80" fill="#ff0000"/>
<circle cx="942.03" cy="1519.26" r="4.80" fill="#ff0000"/>
<circle cx="951.32" cy="1511.61" r="4.80" fill="#ff0000"/>
<circle cx="960.61" cy="1502.30" r="4.80" fill="#ff0000"/>
<circle cx="969.90" cy="1495.07" r="4.80" fill="#ff0000"/>
<circle cx="979.19" cy="1487.83" r="4.80" fill="#ff0000"/>
<circle cx="988.48" cy="1483.69" r="4.80" fill="#ff0000"/>
<circle cx="997.77" cy="1478.52" r="4.80" fill="#ff0000"/>
<circle cx="1007.06" cy="1474.80" r="4.80" fill="#ff0000"/>
<circle cx="1016.35" cy="1470.66" r="4.80" fill="#ff0000"/>
<circle cx="1025.64" cy="1466.53" r="4.80" fill="#ff0000"/>
<circle cx="1034.93" cy="1463.63" r="4.80" fill="#ff0000"/>
<circle cx="1044.22" cy="1459.50" r="4.80" fill="#ff0000"/>
<circle cx="1053.51" cy="1456.81" r="4.80" fill="#ff0000"/>
<circle cx="1062.80" cy="1453.71" r="4.80" fill="#ff0000"/>
<circle cx="1072.09" cy="1452.05" r="4.80" fill="#ff0000"/>
<circle cx="1081.38" cy="1449.98" r="4.80" fill="#ff0000"/>
<circle cx="1090.67" cy="1447.92" r="4.80" fill="#ff0000"/>
<circle cx="1099.96" cy="1444.40" r="4.80" fill="#ff0000"/>
<circle cx="1109.25" cy="1443.78" r="4.80" fill="#ff0000"/>
<circle cx="1118.54" cy="1440.68" r="4.80" fill="#ff0000"/>
<circle cx="1127.83" cy="1438.61" r="4.80" fill="#ff0000"/>
<circle cx="1137.12" cy="1436.13" r="4.80" fill="#ff0000"/>
<circle cx="1146.41" cy="1434.06" r="4.80" fill="#ff0000"/>
<circle cx="1155.70" cy="1433.13" r="4.80" fill="#ff0000"/>
<circle cx="1164.99" cy="1430.13" r="4.80" fill="#ff0000"/>
<circle cx="1174.28" cy="1428.79" r="4.80" fill="#ff0000"/>
<circle cx="1183.57" cy="1426.72" r="4.80" fill="#ff0000"/>
<circle cx="1192.86" cy="1424.65" r="4.80" fill="#ff0000"/>
<circle cx="1202.15" cy="1422.58" r="4.80" fill="#ff0000"/>
<circle cx="1211.44" cy="1420.31" r="4.80" fill="#ff0000"/>
<circle cx="1220.73" cy="1419.27" r="4.80" fill="#ff0000"/>
<circle cx="1230.02" cy="1417.21" r="4.80" fill="#ff0000"/>
<circle cx="1239.31" cy="1415.14" r="4.80" fill="#ff0000"/>
<circle cx="1248.60" cy="1412.24" r="4.80" fill="#ff0000"/>
<circle cx="1257.89" cy="1409.55" r="4.80" fill="#ff0000"/>
<circle cx="1267.18" cy="1407.49" r="4.80" fill="#ff0000"/>
<circle cx="1276.47" cy="1403.97" r="4.80" fill="#ff0000"/>
<circle cx="1285.76" cy="1402.32" r="4.80" fill="#ff0000"/>
<circle cx="1295.05" cy="1399.21" r="4.80" fill="#ff0000"/>
<circle cx="1304.34" cy="1393.01" r="4.80" fill="#ff0000"/>
<circle cx="1313.63" cy="1388.87" r="4.80" fill="#ff0000"/>
<circle cx="1322.92" cy="1384.74" r="4.80" fill="#ff0000"/>
<circle cx="1332.21" cy="1379.67" r="4.80" fill="#ff0000"/>
<circle cx="1341.50" cy="1375.12" r="4.80" fill="#ff0000"/>
<circle cx="1350.79" cy="1370.99" r="4.80" fill="#ff0000"/>
<circle cx="1360.08" cy="1367.26" r="4.80" fill="#ff0000"/>
<circle cx="1369.37" cy="1362.71" r="4.80" fill="#ff0000"/>
<circle cx="1378.66" cy="1356.51" r="4.80" fill="#ff0000"/>
<circle cx="1387.95" cy="1353.82" r="4.80" fill="#ff0000"/>
<circle cx="1397.24" cy="1350.31" r="4.80" fill="#ff0000"/>
<circle cx="1406.53" cy="1346.17" r="4.80" fill="#ff0000"/>
<circle cx="1415.82" cy="1344.10" r="4.80" fill="#ff0000"/>
<rect x="877.00" y="1205.30" width="557.40" height="414.70" fill="none" stroke="#000" stroke-width="2.7" stroke-linejoin="round"/>
<line x1="868.20" y1="1620.00" x2="877.00" y2="1620.00" stroke="#000" stroke-width="2.7" stroke-linecap="round"/>
<text x="853.2" y="1630.8" font-size="30" text-anchor="end">20</text>
<line x1="868.20" y1="1516.30" x2="877.00" y2="1516.30" stroke="#000" stroke-width="2.7" stroke-linecap="round"/>
<text x="853.2" y="1527.1" font-size="30" text-anchor="end">30</text>
<line x1="868.20" y1="1412.60" x2="877.00" y2="1412.60" stroke="#000" stroke-width="2.7" stroke-linecap="round"/>
<text x="853.2" y="1423.4" font-size="30" text-anchor="end">40</text>
<line x1="868.20" y1="1308.90" x2="877.00" y2="1308.90" stroke="#000" stroke-width="2.7" stroke-linecap="round"/>
<text x="853.2" y="1319.7" font-size="30" text-anchor="end">50</text>
<line x1="868.20" y1="1205.20" x2="877.00" y2="1205.20" stroke="#000" stroke-width="2.7" stroke-linecap="round"/>
<text x="853.2" y="1216.0" font-size="30" text-anchor="end">60</text>
<line x1="877.00" y1="1620.00" x2="877.00" y2="1629.80" stroke="#000" stroke-width="2.7" stroke-linecap="round"/>
<text x="877.0" y="1662.8" font-size="30" text-anchor="middle">0</text>
<line x1="969.90" y1="1620.00" x2="969.90" y2="1629.80" stroke="#000" stroke-width="2.7" stroke-linecap="round"/>
<text x="969.9" y="1662.8" font-size="30" text-anchor="middle">5</text>
<line x1="1062.80" y1="1620.00" x2="1062.80" y2="1629.80" stroke="#000" stroke-width="2.7" stroke-linecap="round"/>
<text x="1062.8" y="1662.8" font-size="30" text-anchor="middle">10</text>
<line x1="1155.70" y1="1620.00" x2="1155.70" y2="1629.80" stroke="#000" stroke-width="2.7" stroke-linecap="round"/>
<text x="1155.7" y="1662.8" font-size="30" text-anchor="middle">15</text>
<line x1="1248.60" y1="1620.00" x2="1248.60" y2="1629.80" stroke="#000" stroke-width="2.7" stroke-linecap="round"/>
<text x="1248.6" y="1662.8" font-size="30" text-anchor="middle">20</text>
<line x1="1341.50" y1="1620.00" x2="1341.50" y2="1629.80" stroke="#000" stroke-width="2.7" stroke-linecap="round"/>
<text x="1341.5" y="1662.8" font-size="30" text-anchor="middle">25</text>
<line x1="1434.40" y1="1620.00" x2="1434.40" y2="1629.80" stroke="#000" stroke-width="2.7" stroke-linecap="round"/>
<text x="1434.4" y="1662.8" font-size="30" text-anchor="middle">30</text>
<text x="1081.5" y="1704.5" font-size="29">Time (min)</text>
<g transform="translate(795.7,1531) rotate(-90)">
<text x="0" y="0" font-size="29.7">Temperature (°C)</text>
</g>
<polygon points="914.10,1239.60 919.90,1249.40 908.30,1249.40" fill="#000"/>
<circle cx="914.00" cy="1277.70" r="5.30" fill="#ff0000"/>
<text x="936.5" y="1253.5" font-size="20.5" textLength="144" lengthAdjust="spacingAndGlyphs">The PAANa-ST</text>
<text x="1079.5" y="1259.5" font-size="14">6</text>
<text x="1092.3" y="1253.5" font-size="20.5" textLength="225" lengthAdjust="spacingAndGlyphs">based supercapacitor (T</text>
<text x="1317.0" y="1259.5" font-size="14">1</text>
<text x="1325.3" y="1253.5" font-size="20.5">)</text>
<text x="936.5" y="1285.9" font-size="20.5" textLength="171.5" lengthAdjust="spacingAndGlyphs">The PAANa-1MST</text>
<text x="1108.2" y="1291.9" font-size="14">6</text>
<text x="1120.8" y="1285.9" font-size="20.5" textLength="225" lengthAdjust="spacingAndGlyphs">based supercapacitor (T</text>
<text x="1346.2" y="1291.9" font-size="14">2</text>
<text x="1355.8" y="1285.9" font-size="20.5">)</text>
<text x="1102.5" y="1371.5" font-size="29" fill="#ff0000" textLength="146" lengthAdjust="spacingAndGlyphs">Broken(T1)</text>
<text x="1004.5" y="1575.0" font-size="29" fill="#0000ff" textLength="178" lengthAdjust="spacingAndGlyphs">Unbroken(T2)</text>
<text x="755.3" y="1201.0" font-size="40.5" font-weight="bold">f</text>
</g>
</svg>
</body></html>
